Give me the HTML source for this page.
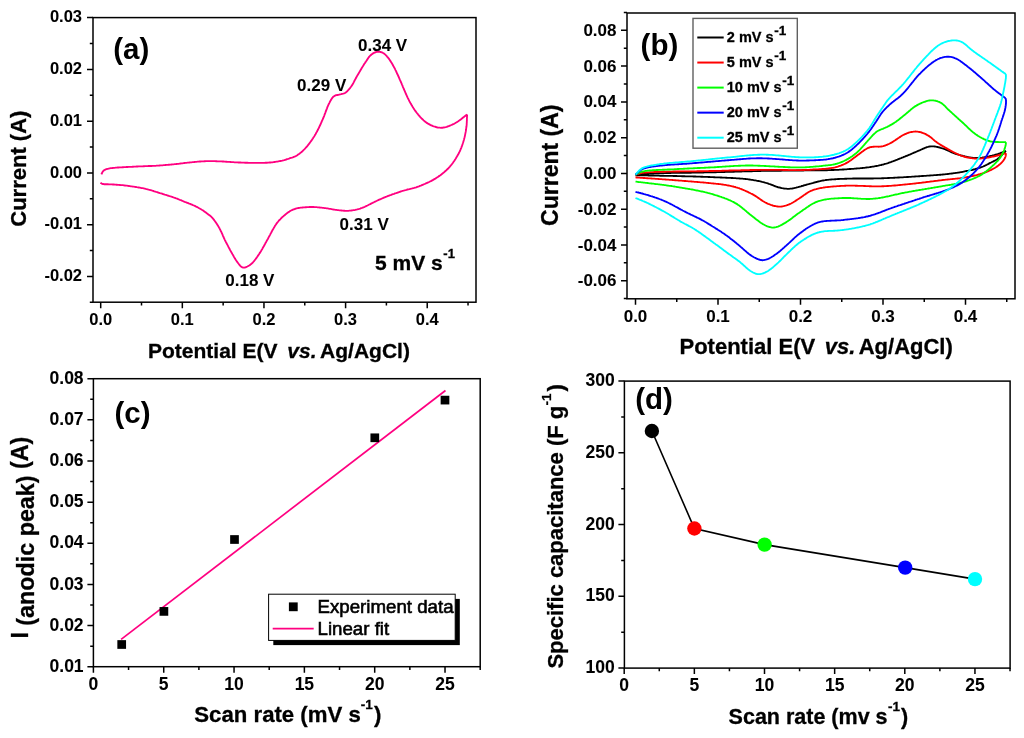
<!DOCTYPE html><html><head><meta charset="utf-8"><style>html,body{margin:0;padding:0;background:#fff;width:1024px;height:738px;overflow:hidden}svg{display:block;filter:blur(0.3px)} text{font-family:"Liberation Sans", sans-serif;font-weight:bold;fill:#000;stroke:#000;stroke-width:0.3px} .tk{font-size:16.5px;stroke-width:0.05px}</style></head><body>
<svg width="1024" height="738" viewBox="0 0 1024 738">
<rect width="1024" height="738" fill="#fff"/>
<rect x="93" y="17.6" width="383" height="284.6" fill="none" stroke="#000" stroke-width="1.5"/>
<path d="M100.7,302.2 v6 M182.33,302.2 v6 M263.96,302.2 v6 M345.59,302.2 v6 M427.22,302.2 v6 M141.51,302.2 v3.2 M223.15,302.2 v3.2 M304.77,302.2 v3.2 M386.4,302.2 v3.2 M468.03,302.2 v3.2 M93,276.42 h-6 M93,224.66 h-6 M93,172.9 h-6 M93,121.14 h-6 M93,69.38 h-6 M93,17.62 h-6 M93,302.3 h-3.2 M93,250.54 h-3.2 M93,198.78 h-3.2 M93,147.02 h-3.2 M93,95.26 h-3.2 M93,43.5 h-3.2" stroke="#000" stroke-width="1.5" fill="none"/>
<text x="100.7" y="324.7" text-anchor="middle" class="tk" style="font-size:16.5px">0.0</text>
<text x="182.33" y="324.7" text-anchor="middle" class="tk" style="font-size:16.5px">0.1</text>
<text x="263.96" y="324.7" text-anchor="middle" class="tk" style="font-size:16.5px">0.2</text>
<text x="345.59" y="324.7" text-anchor="middle" class="tk" style="font-size:16.5px">0.3</text>
<text x="427.22" y="324.7" text-anchor="middle" class="tk" style="font-size:16.5px">0.4</text>
<text x="82" y="281.02" text-anchor="end" class="tk" style="font-size:16.5px">-0.02</text>
<text x="82" y="229.26" text-anchor="end" class="tk" style="font-size:16.5px">-0.01</text>
<text x="82" y="177.5" text-anchor="end" class="tk" style="font-size:16.5px">0.00</text>
<text x="82" y="125.74" text-anchor="end" class="tk" style="font-size:16.5px">0.01</text>
<text x="82" y="73.98" text-anchor="end" class="tk" style="font-size:16.5px">0.02</text>
<text x="82" y="22.22" text-anchor="end" class="tk" style="font-size:16.5px">0.03</text>
<path d="M101.4,174.4L101.8,173.5L102.2,172.6L102.7,171.7L103.3,171.0L104.1,170.3L104.9,169.8L105.8,169.4L106.8,169.0L107.7,168.8L108.7,168.6L109.7,168.4L110.7,168.2L111.7,168.1L112.7,168.0L113.7,167.9L114.7,167.8L115.7,167.7L116.7,167.6L117.6,167.5L118.6,167.5L119.6,167.4L120.6,167.3L121.6,167.3L122.6,167.2L123.6,167.2L124.6,167.1L125.6,167.1L126.6,167.0L127.6,167.0L128.6,166.9L129.6,166.9L130.6,166.8L131.6,166.8L132.6,166.7L133.6,166.7L134.6,166.6L135.6,166.6L136.6,166.5L137.6,166.5L138.6,166.4L139.6,166.4L140.6,166.3L141.6,166.3L142.6,166.3L143.6,166.2L144.6,166.2L145.6,166.1L146.6,166.1L147.6,166.1L148.6,166.0L149.6,166.0L150.6,166.0L151.6,166.0L152.6,165.9L153.6,165.9L154.6,165.8L155.6,165.8L156.6,165.7L157.6,165.6L158.6,165.6L159.6,165.5L160.6,165.4L161.6,165.3L162.6,165.3L163.6,165.2L164.6,165.1L165.6,165.0L166.6,164.9L167.6,164.8L168.6,164.7L169.6,164.7L170.6,164.6L171.6,164.5L172.6,164.4L173.6,164.3L174.6,164.2L175.6,164.1L176.6,164.0L177.6,163.9L178.6,163.8L179.6,163.6L180.6,163.5L181.6,163.4L182.5,163.3L183.5,163.1L184.5,163.0L185.5,162.9L186.5,162.8L187.5,162.7L188.5,162.6L189.5,162.5L190.5,162.4L191.5,162.3L192.5,162.2L193.5,162.1L194.5,162.0L195.5,161.9L196.5,161.8L197.5,161.7L198.5,161.6L199.5,161.5L200.5,161.5L201.5,161.4L202.5,161.3L203.5,161.3L204.5,161.2L205.5,161.2L206.5,161.1L207.5,161.1L208.5,161.1L209.5,161.1L210.5,161.1L211.5,161.1L212.5,161.1L213.5,161.1L214.5,161.1L215.5,161.2L216.5,161.2L217.5,161.3L218.5,161.3L219.5,161.4L220.5,161.4L221.5,161.4L222.5,161.5L223.5,161.5L224.5,161.6L225.5,161.7L226.5,161.7L227.5,161.8L228.5,161.9L229.5,161.9L230.5,162.0L231.5,162.1L232.5,162.1L233.5,162.2L234.5,162.3L235.5,162.3L236.5,162.4L237.5,162.4L238.5,162.5L239.5,162.5L240.5,162.5L241.5,162.6L242.5,162.6L243.5,162.6L244.5,162.7L245.5,162.7L246.5,162.7L247.5,162.7L248.5,162.8L249.5,162.8L250.5,162.8L251.5,162.8L252.5,162.8L253.5,162.8L254.5,162.8L255.5,162.8L256.5,162.8L257.5,162.8L258.5,162.8L259.5,162.8L260.5,162.8L261.5,162.8L262.5,162.8L263.5,162.8L264.5,162.8L265.5,162.7L266.5,162.7L267.5,162.7L268.5,162.6L269.5,162.5L270.5,162.5L271.5,162.4L272.5,162.3L273.5,162.1L274.4,162.0L275.4,161.9L276.4,161.7L277.4,161.6L278.4,161.4L279.4,161.2L280.4,161.0L281.3,160.8L282.3,160.6L283.3,160.3L284.3,160.1L285.2,159.8L286.2,159.5L287.1,159.2L288.1,158.9L289.0,158.6L290.0,158.2L290.9,157.9L291.9,157.6L292.8,157.3L293.8,156.9L294.7,156.6L295.6,156.2L296.5,155.7L297.3,155.2L298.1,154.6L299.0,154.0L299.8,153.4L300.5,152.8L301.3,152.2L302.1,151.5L302.8,150.8L303.5,150.1L304.3,149.4L305.0,148.7L305.6,148.0L306.3,147.2L307.0,146.5L307.6,145.7L308.2,144.9L308.8,144.2L309.4,143.4L310.0,142.5L310.6,141.7L311.2,140.9L311.8,140.1L312.3,139.3L312.9,138.4L313.4,137.6L314.0,136.7L314.5,135.9L315.0,135.0L315.5,134.2L316.0,133.3L316.5,132.4L317.0,131.5L317.4,130.7L317.9,129.8L318.3,128.9L318.8,128.0L319.2,127.1L319.6,126.2L320.1,125.3L320.5,124.4L320.9,123.5L321.3,122.5L321.7,121.6L322.1,120.7L322.5,119.8L322.9,118.9L323.3,118.0L323.7,117.0L324.1,116.1L324.4,115.2L324.8,114.2L325.1,113.3L325.5,112.3L325.8,111.4L326.2,110.5L326.5,109.5L326.9,108.6L327.2,107.7L327.6,106.7L328.0,105.8L328.4,104.9L328.8,104.0L329.3,103.1L329.7,102.2L330.2,101.3L330.7,100.4L331.2,99.6L331.7,98.7L332.3,97.9L332.9,97.2L333.6,96.5L334.5,95.9L335.3,95.5L336.3,95.2L337.3,95.0L338.3,94.8L339.2,94.6L340.2,94.4L341.2,94.2L342.2,93.9L343.1,93.7L344.1,93.4L345.0,93.0L345.8,92.4L346.6,91.8L347.3,91.2L348.0,90.4L348.7,89.7L349.3,88.9L350.0,88.1L350.6,87.3L351.2,86.5L351.7,85.7L352.3,84.9L352.8,84.0L353.3,83.2L353.7,82.3L354.2,81.4L354.6,80.5L355.1,79.6L355.6,78.7L356.1,77.8L356.5,77.0L357.0,76.1L357.5,75.2L358.1,74.4L358.6,73.5L359.1,72.6L359.6,71.8L360.1,70.9L360.6,70.1L361.1,69.2L361.6,68.3L362.1,67.5L362.7,66.6L363.2,65.8L363.7,64.9L364.2,64.1L364.8,63.2L365.3,62.4L365.9,61.6L366.5,60.7L367.0,59.9L367.6,59.1L368.1,58.2L368.7,57.4L369.3,56.6L370.0,55.9L370.7,55.2L371.5,54.5L372.3,53.9L373.1,53.4L374.0,52.9L374.9,52.5L375.8,52.2L376.8,51.9L377.8,51.8L378.8,51.7L379.8,51.8L380.7,52.0L381.7,52.3L382.6,52.7L383.5,53.2L384.3,53.8L385.0,54.4L385.8,55.1L386.5,55.8L387.1,56.6L387.8,57.4L388.4,58.1L389.0,58.9L389.6,59.7L390.1,60.6L390.7,61.4L391.2,62.2L391.7,63.1L392.3,64.0L392.7,64.8L393.2,65.7L393.7,66.6L394.2,67.5L394.7,68.4L395.1,69.2L395.5,70.1L396.0,71.0L396.4,72.0L396.8,72.9L397.2,73.8L397.7,74.7L398.1,75.6L398.5,76.5L398.9,77.4L399.3,78.3L399.7,79.3L400.1,80.2L400.5,81.1L400.9,82.0L401.3,82.9L401.7,83.8L402.1,84.8L402.5,85.7L402.8,86.6L403.2,87.5L403.6,88.5L404.0,89.4L404.4,90.3L404.8,91.2L405.2,92.2L405.6,93.1L406.0,94.0L406.4,94.9L406.8,95.8L407.2,96.7L407.6,97.6L408.1,98.5L408.5,99.4L409.0,100.3L409.4,101.2L409.9,102.1L410.4,103.0L410.9,103.8L411.4,104.7L411.9,105.6L412.4,106.4L412.9,107.3L413.4,108.1L414.0,109.0L414.5,109.8L415.1,110.6L415.7,111.4L416.3,112.2L416.9,113.0L417.6,113.8L418.2,114.6L418.8,115.3L419.5,116.1L420.1,116.9L420.8,117.6L421.5,118.3L422.2,119.0L422.9,119.7L423.6,120.4L424.4,121.1L425.2,121.7L426.0,122.3L426.8,122.9L427.6,123.4L428.5,123.9L429.4,124.4L430.3,124.9L431.2,125.3L432.1,125.7L433.0,126.1L433.9,126.4L434.9,126.7L435.9,127.0L436.8,127.3L437.8,127.5L438.8,127.6L439.8,127.7L440.8,127.8L441.8,127.7L442.8,127.7L443.8,127.5L444.7,127.3L445.7,127.1L446.7,126.8L447.6,126.5L448.6,126.2L449.5,125.8L450.4,125.4L451.4,125.0L452.3,124.6L453.2,124.2L454.1,123.8L455.0,123.3L455.8,122.8L456.7,122.3L457.5,121.7L458.3,121.2L459.2,120.6L460.0,120.0L460.8,119.4L461.6,118.8L462.3,118.2L463.1,117.5L463.9,116.9L464.7,116.3L465.5,115.7L466.3,115.1L467.1,114.5 M467.1,114.5L467.1,115.5L467.0,116.5L467.0,117.5L466.9,118.5L466.9,119.5L466.9,120.5L466.8,121.5L466.8,122.5L466.7,123.5L466.7,124.5L466.6,125.5L466.5,126.5L466.3,127.5L466.2,128.5L466.1,129.5L465.9,130.5L465.8,131.4L465.6,132.4L465.4,133.4L465.2,134.4L465.0,135.4L464.8,136.4L464.6,137.3L464.3,138.3L464.1,139.3L463.8,140.2L463.5,141.2L463.2,142.2L462.9,143.1L462.6,144.1L462.3,145.0L462.0,145.9L461.6,146.9L461.3,147.8L460.9,148.7L460.5,149.7L460.1,150.6L459.7,151.5L459.2,152.4L458.8,153.3L458.3,154.2L457.8,155.1L457.3,155.9L456.8,156.8L456.3,157.6L455.8,158.5L455.3,159.3L454.7,160.2L454.2,161.0L453.6,161.8L453.0,162.7L452.4,163.5L451.8,164.3L451.2,165.0L450.5,165.8L449.9,166.6L449.2,167.3L448.5,168.1L447.9,168.8L447.1,169.5L446.4,170.2L445.7,170.8L444.9,171.5L444.2,172.2L443.4,172.8L442.6,173.4L441.9,174.1L441.1,174.7L440.3,175.3L439.4,175.9L438.6,176.4L437.8,177.0L437.0,177.5L436.1,178.1L435.3,178.6L434.4,179.1L433.5,179.6L432.7,180.1L431.8,180.6L430.9,181.1L430.0,181.5L429.1,182.0L428.2,182.4L427.3,182.8L426.4,183.2L425.5,183.6L424.6,184.0L423.6,184.4L422.7,184.8L421.8,185.2L420.9,185.6L419.9,185.9L419.0,186.3L418.1,186.6L417.1,187.0L416.2,187.3L415.2,187.6L414.2,187.9L413.3,188.1L412.3,188.4L411.3,188.6L410.4,188.8L409.4,189.1L408.4,189.3L407.4,189.5L406.5,189.8L405.5,190.1L404.5,190.3L403.6,190.6L402.6,190.9L401.7,191.2L400.7,191.5L399.8,191.8L398.8,192.2L397.9,192.5L396.9,192.8L396.0,193.1L395.0,193.4L394.1,193.8L393.1,194.1L392.2,194.4L391.3,194.8L390.3,195.1L389.4,195.5L388.4,195.8L387.5,196.2L386.6,196.6L385.7,196.9L384.7,197.3L383.8,197.7L382.9,198.1L382.0,198.5L381.1,198.9L380.1,199.3L379.2,199.7L378.3,200.1L377.4,200.5L376.5,201.0L375.6,201.4L374.7,201.8L373.8,202.3L372.9,202.7L372.0,203.2L371.1,203.6L370.2,204.1L369.3,204.5L368.4,205.0L367.5,205.5L366.6,205.9L365.7,206.3L364.8,206.8L363.9,207.2L363.0,207.5L362.1,207.9L361.1,208.2L360.2,208.6L359.2,208.9L358.3,209.1L357.3,209.4L356.3,209.6L355.3,209.9L354.4,210.1L353.4,210.2L352.4,210.4L351.4,210.5L350.4,210.6L349.4,210.7L348.4,210.8L347.4,210.8L346.4,210.8L345.4,210.8L344.4,210.7L343.4,210.7L342.4,210.6L341.4,210.5L340.4,210.4L339.4,210.3L338.4,210.2L337.4,210.1L336.4,209.9L335.4,209.8L334.5,209.6L333.5,209.5L332.5,209.3L331.5,209.1L330.5,208.9L329.5,208.8L328.5,208.6L327.6,208.4L326.6,208.3L325.6,208.2L324.6,208.1L323.6,207.9L322.6,207.8L321.6,207.7L320.6,207.6L319.6,207.5L318.6,207.4L317.6,207.3L316.6,207.2L315.6,207.1L314.6,207.1L313.6,207.0L312.6,207.0L311.6,207.0L310.6,207.0L309.6,207.0L308.6,207.1L307.6,207.1L306.6,207.2L305.6,207.2L304.6,207.3L303.6,207.4L302.6,207.5L301.6,207.6L300.6,207.7L299.6,207.9L298.7,208.0L297.7,208.2L296.7,208.4L295.7,208.7L294.8,209.0L293.8,209.3L292.9,209.7L292.0,210.1L291.1,210.5L290.2,211.0L289.4,211.6L288.5,212.1L287.7,212.7L286.9,213.3L286.1,213.9L285.4,214.5L284.6,215.2L283.8,215.8L283.1,216.5L282.3,217.1L281.6,217.8L280.9,218.5L280.2,219.3L279.5,220.0L278.8,220.7L278.2,221.5L277.5,222.3L276.9,223.1L276.3,223.9L275.8,224.7L275.2,225.5L274.7,226.4L274.2,227.2L273.7,228.1L273.2,229.0L272.7,229.8L272.2,230.7L271.7,231.6L271.3,232.5L270.8,233.4L270.3,234.3L269.9,235.1L269.4,236.0L268.9,236.9L268.4,237.8L268.0,238.7L267.5,239.5L267.0,240.4L266.5,241.3L266.0,242.2L265.5,243.0L265.1,243.9L264.6,244.8L264.1,245.7L263.6,246.6L263.1,247.4L262.6,248.3L262.2,249.2L261.6,250.0L261.1,250.9L260.6,251.7L260.1,252.6L259.5,253.4L259.0,254.3L258.4,255.1L257.8,255.9L257.3,256.7L256.7,257.6L256.1,258.4L255.5,259.2L254.9,260.0L254.3,260.8L253.6,261.5L253.0,262.3L252.3,263.0L251.5,263.7L250.8,264.3L250.0,264.9L249.2,265.5L248.3,266.0L247.4,266.5L246.5,266.9L245.6,267.3L244.7,267.5L243.7,267.6L242.7,267.5L241.8,267.1L241.0,266.5L240.3,265.8L239.7,265.1L239.0,264.3L238.4,263.5L237.8,262.7L237.2,261.9L236.6,261.1L236.1,260.3L235.5,259.4L235.0,258.6L234.5,257.7L234.0,256.9L233.5,256.0L233.0,255.1L232.5,254.3L232.0,253.4L231.5,252.5L231.0,251.6L230.5,250.8L230.0,249.9L229.6,249.0L229.1,248.1L228.6,247.2L228.2,246.3L227.7,245.4L227.3,244.6L226.8,243.7L226.3,242.8L225.8,241.9L225.4,241.0L224.9,240.1L224.5,239.2L224.1,238.3L223.7,237.4L223.3,236.5L222.9,235.6L222.5,234.6L222.1,233.7L221.7,232.8L221.3,231.9L220.8,231.0L220.4,230.1L219.9,229.2L219.5,228.3L219.0,227.5L218.5,226.6L218.0,225.7L217.4,224.9L216.9,224.0L216.4,223.2L215.8,222.4L215.2,221.5L214.6,220.7L214.0,219.9L213.4,219.1L212.8,218.4L212.1,217.6L211.4,216.9L210.7,216.2L209.9,215.6L209.1,215.0L208.3,214.4L207.5,213.8L206.7,213.2L205.9,212.6L205.1,212.0L204.3,211.4L203.5,210.8L202.7,210.2L201.8,209.7L201.0,209.2L200.1,208.7L199.2,208.2L198.4,207.7L197.5,207.2L196.6,206.8L195.7,206.4L194.8,205.9L193.9,205.5L192.9,205.1L192.0,204.7L191.1,204.3L190.2,203.9L189.2,203.6L188.3,203.2L187.4,202.8L186.4,202.5L185.5,202.1L184.6,201.8L183.6,201.4L182.7,201.0L181.8,200.6L180.9,200.2L179.9,199.9L179.0,199.5L178.1,199.1L177.2,198.7L176.2,198.4L175.3,198.0L174.3,197.7L173.4,197.4L172.5,197.0L171.5,196.7L170.6,196.4L169.6,196.1L168.7,195.8L167.7,195.5L166.7,195.2L165.8,194.9L164.8,194.6L163.9,194.3L162.9,194.0L162.0,193.7L161.0,193.4L160.0,193.1L159.1,192.8L158.1,192.5L157.2,192.2L156.2,191.9L155.3,191.6L154.3,191.3L153.4,191.0L152.4,190.7L151.5,190.4L150.5,190.1L149.5,189.8L148.6,189.6L147.6,189.3L146.6,189.1L145.7,188.9L144.7,188.6L143.7,188.4L142.7,188.2L141.7,188.1L140.7,187.9L139.8,187.7L138.8,187.5L137.8,187.3L136.8,187.2L135.8,187.0L134.8,186.9L133.8,186.7L132.8,186.6L131.9,186.4L130.9,186.3L129.9,186.1L128.9,186.0L127.9,185.9L126.9,185.7L125.9,185.6L124.9,185.5L123.9,185.4L122.9,185.2L121.9,185.1L120.9,185.1L119.9,185.0L118.9,184.9L117.9,184.8L116.9,184.7L115.9,184.7L114.9,184.6L113.9,184.5L112.9,184.5L111.9,184.4L110.9,184.4L109.9,184.3L108.9,184.3L107.9,184.2L106.9,184.2L105.9,184.2L104.9,184.2L103.9,184.2L103.0,184.0L102.0,183.8L101.2,183.3L100.5,182.6" fill="none" stroke="#ff0080" stroke-width="1.85" stroke-linejoin="round"/>
<text x="113.2" y="59.4" style="font-size:29.5px;stroke-width:0">(a)</text>
<text x="358" y="50.9" style="font-size:17px;stroke-width:0.05px">0.34 V</text>
<text x="297.1" y="90.9" style="font-size:17px;stroke-width:0.05px">0.29 V</text>
<text x="339.6" y="229.9" style="font-size:17px;stroke-width:0.05px">0.31 V</text>
<text x="225.3" y="285.7" style="font-size:17px;stroke-width:0.05px">0.18 V</text>
<text x="375" y="269.8" style="font-size:21px">5 mV s</text><text x="443.3" y="257.6" style="font-size:13px">-1</text>
<text transform="translate(25.6,168.7) rotate(-90)" text-anchor="middle" style="font-size:22px">Current (A)</text>
<text x="148" y="357.6" style="font-size:21px">Potential E(V <tspan dx="4" style="font-style:italic">vs.</tspan><tspan dx="-1.5"> Ag/AgCl)</tspan></text>
<rect x="627" y="13" width="388" height="285.8" fill="none" stroke="#000" stroke-width="1.5"/>
<path d="M635.5,298.8 v6 M718,298.8 v6 M800.5,298.8 v6 M883,298.8 v6 M965.5,298.8 v6 M676.75,298.8 v3.2 M759.25,298.8 v3.2 M841.75,298.8 v3.2 M924.25,298.8 v3.2 M1006.75,298.8 v3.2 M627,280.68 h-6 M627,244.92 h-6 M627,209.16 h-6 M627,173.4 h-6 M627,137.64 h-6 M627,101.88 h-6 M627,66.12 h-6 M627,30.36 h-6 M627,298.56 h-3.2 M627,262.8 h-3.2 M627,227.04 h-3.2 M627,191.28 h-3.2 M627,155.52 h-3.2 M627,119.76 h-3.2 M627,84 h-3.2 M627,48.24 h-3.2 M627,12.48 h-3.2" stroke="#000" stroke-width="1.5" fill="none"/>
<text x="635.5" y="322.1" text-anchor="middle" class="tk" style="font-size:17px">0.0</text>
<text x="718" y="322.1" text-anchor="middle" class="tk" style="font-size:17px">0.1</text>
<text x="800.5" y="322.1" text-anchor="middle" class="tk" style="font-size:17px">0.2</text>
<text x="883" y="322.1" text-anchor="middle" class="tk" style="font-size:17px">0.3</text>
<text x="965.5" y="322.1" text-anchor="middle" class="tk" style="font-size:17px">0.4</text>
<text x="616.5" y="286.28" text-anchor="end" class="tk" style="font-size:17px">-0.06</text>
<text x="616.5" y="250.52" text-anchor="end" class="tk" style="font-size:17px">-0.04</text>
<text x="616.5" y="214.76" text-anchor="end" class="tk" style="font-size:17px">-0.02</text>
<text x="616.5" y="179" text-anchor="end" class="tk" style="font-size:17px">0.00</text>
<text x="616.5" y="143.24" text-anchor="end" class="tk" style="font-size:17px">0.02</text>
<text x="616.5" y="107.48" text-anchor="end" class="tk" style="font-size:17px">0.04</text>
<text x="616.5" y="71.72" text-anchor="end" class="tk" style="font-size:17px">0.06</text>
<text x="616.5" y="35.96" text-anchor="end" class="tk" style="font-size:17px">0.08</text>
<path d="M635.5,174.7L636.5,174.5L637.5,174.4L638.5,174.2L639.5,174.1L640.4,174.0L641.4,173.9L642.4,173.8L643.4,173.7L644.4,173.7L645.4,173.6L646.4,173.6L647.4,173.5L648.4,173.5L649.4,173.4L650.4,173.4L651.4,173.4L652.4,173.3L653.4,173.3L654.4,173.3L655.4,173.3L656.4,173.2L657.4,173.2L658.4,173.2L659.4,173.2L660.4,173.1L661.4,173.1L662.4,173.1L663.4,173.1L664.4,173.1L665.4,173.0L666.4,173.0L667.4,173.0L668.4,173.0L669.4,173.0L670.5,173.0L671.5,172.9L672.5,172.9L673.5,172.9L674.5,172.9L675.5,172.9L676.5,172.9L677.5,172.9L678.5,172.8L679.5,172.8L680.5,172.8L681.5,172.8L682.5,172.8L683.5,172.8L684.5,172.8L685.5,172.7L686.5,172.7L687.5,172.7L688.5,172.7L689.5,172.7L690.5,172.7L691.5,172.7L692.5,172.6L693.5,172.6L694.5,172.6L695.5,172.6L696.5,172.6L697.5,172.6L698.5,172.5L699.5,172.5L700.5,172.5L701.5,172.5L702.5,172.5L703.5,172.5L704.5,172.4L705.5,172.4L706.5,172.4L707.5,172.4L708.5,172.4L709.5,172.3L710.5,172.3L711.5,172.3L712.5,172.3L713.5,172.3L714.5,172.2L715.5,172.2L716.5,172.2L717.5,172.1L718.5,172.1L719.5,172.1L720.5,172.1L721.5,172.0L722.5,172.0L723.5,172.0L724.5,172.0L725.5,171.9L726.5,171.9L727.5,171.9L728.5,171.8L729.5,171.8L730.5,171.8L731.5,171.8L732.5,171.7L733.5,171.7L734.5,171.7L735.5,171.6L736.5,171.6L737.5,171.6L738.5,171.6L739.5,171.5L740.5,171.5L741.5,171.5L742.5,171.4L743.5,171.4L744.5,171.4L745.5,171.4L746.5,171.3L747.5,171.3L748.5,171.3L749.5,171.2L750.5,171.2L751.5,171.2L752.5,171.2L753.5,171.1L754.5,171.1L755.5,171.1L756.5,171.1L757.5,171.0L758.5,171.0L759.5,171.0L760.5,171.0L761.5,170.9L762.5,170.9L763.5,170.9L764.5,170.9L765.5,170.8L766.5,170.8L767.5,170.8L768.5,170.8L769.5,170.8L770.5,170.8L771.5,170.7L772.5,170.7L773.5,170.7L774.5,170.7L775.5,170.7L776.5,170.7L777.5,170.7L778.5,170.7L779.5,170.7L780.5,170.7L781.5,170.7L782.5,170.6L783.5,170.6L784.5,170.6L785.5,170.6L786.5,170.6L787.5,170.6L788.5,170.6L789.5,170.6L790.5,170.6L791.5,170.6L792.5,170.6L793.5,170.6L794.5,170.6L795.5,170.6L796.5,170.5L797.5,170.5L798.5,170.5L799.5,170.5L800.5,170.5L801.5,170.5L802.5,170.5L803.5,170.5L804.5,170.4L805.5,170.4L806.5,170.4L807.5,170.4L808.5,170.4L809.5,170.4L810.5,170.4L811.5,170.4L812.5,170.4L813.5,170.4L814.5,170.3L815.5,170.3L816.5,170.3L817.5,170.3L818.5,170.3L819.6,170.3L820.6,170.3L821.6,170.3L822.6,170.3L823.6,170.2L824.6,170.2L825.6,170.2L826.6,170.2L827.6,170.2L828.6,170.1L829.6,170.1L830.6,170.1L831.6,170.0L832.6,170.0L833.6,170.0L834.6,169.9L835.6,169.9L836.6,169.9L837.6,169.8L838.6,169.8L839.6,169.7L840.6,169.6L841.6,169.6L842.6,169.5L843.6,169.5L844.6,169.4L845.6,169.3L846.5,169.3L847.5,169.2L848.5,169.1L849.5,169.0L850.5,169.0L851.5,168.9L852.5,168.8L853.5,168.8L854.5,168.7L855.5,168.6L856.5,168.5L857.5,168.4L858.5,168.3L859.5,168.3L860.5,168.2L861.5,168.1L862.5,168.0L863.5,167.9L864.5,167.8L865.5,167.6L866.5,167.5L867.5,167.4L868.5,167.3L869.5,167.2L870.5,167.0L871.4,166.9L872.4,166.7L873.4,166.6L874.4,166.4L875.4,166.2L876.4,166.0L877.4,165.9L878.3,165.7L879.3,165.4L880.3,165.2L881.3,165.0L882.2,164.7L883.2,164.5L884.2,164.2L885.1,163.9L886.1,163.7L887.1,163.4L888.0,163.1L889.0,162.7L889.9,162.4L890.8,162.1L891.8,161.7L892.7,161.4L893.7,161.0L894.6,160.7L895.5,160.3L896.5,159.9L897.4,159.6L898.3,159.2L899.2,158.8L900.2,158.4L901.1,158.1L902.0,157.7L903.0,157.3L903.9,156.9L904.8,156.6L905.7,156.2L906.7,155.8L907.6,155.5L908.5,155.1L909.4,154.7L910.4,154.3L911.3,153.9L912.2,153.5L913.1,153.1L914.0,152.7L914.9,152.3L915.9,151.9L916.8,151.5L917.7,151.1L918.6,150.7L919.6,150.3L920.5,149.9L921.4,149.5L922.3,149.1L923.2,148.7L924.1,148.3L925.0,147.9L926.0,147.5L926.9,147.2L927.9,146.9L928.8,146.6L929.8,146.5L930.8,146.4L931.8,146.3L932.8,146.3L933.8,146.4L934.8,146.5L935.8,146.6L936.7,146.8L937.7,147.0L938.7,147.3L939.7,147.5L940.6,147.8L941.6,148.1L942.5,148.4L943.5,148.7L944.4,149.0L945.4,149.4L946.3,149.8L947.2,150.2L948.1,150.6L949.0,151.0L949.9,151.5L950.8,151.9L951.7,152.3L952.7,152.7L953.6,153.1L954.5,153.4L955.5,153.8L956.4,154.1L957.4,154.4L958.3,154.7L959.3,154.9L960.2,155.2L961.2,155.5L962.2,155.7L963.1,156.0L964.1,156.2L965.1,156.5L966.1,156.7L967.0,156.9L968.0,157.1L969.0,157.3L970.0,157.4L971.0,157.6L972.0,157.7L973.0,157.8L974.0,157.9L975.0,157.9L976.0,158.0L977.0,158.0L978.0,158.0L979.0,157.9L980.0,157.8L981.0,157.8L982.0,157.7L983.0,157.5L983.9,157.4L984.9,157.2L985.9,157.0L986.9,156.9L987.9,156.7L988.9,156.5L989.8,156.2L990.8,156.0L991.8,155.8L992.8,155.5L993.7,155.3L994.7,155.0L995.6,154.7L996.6,154.4L997.6,154.1L998.5,153.8L999.4,153.5L1000.4,153.1L1001.3,152.7L1002.2,152.4L1003.2,152.0L1004.1,151.7L1005.1,151.3L1006.0,151.0 M1006.0,151.0L1005.3,151.7L1004.5,152.4L1003.8,153.1L1003.1,153.7L1002.4,154.5L1001.7,155.2L1001.0,155.9L1000.3,156.6L999.6,157.3L998.9,158.0L998.1,158.6L997.3,159.2L996.4,159.7L995.6,160.2L994.7,160.7L993.8,161.1L992.9,161.6L992.0,162.0L991.1,162.5L990.2,162.9L989.3,163.4L988.5,163.9L987.6,164.3L986.7,164.8L985.8,165.2L984.9,165.7L984.0,166.1L983.1,166.5L982.1,166.9L981.2,167.2L980.3,167.6L979.3,167.9L978.3,168.2L977.4,168.5L976.4,168.7L975.5,169.0L974.5,169.3L973.5,169.5L972.6,169.8L971.6,170.0L970.6,170.2L969.6,170.4L968.7,170.6L967.7,170.8L966.7,171.0L965.7,171.2L964.7,171.4L963.7,171.6L962.8,171.8L961.8,172.0L960.8,172.1L959.8,172.3L958.8,172.5L957.8,172.6L956.8,172.8L955.9,172.9L954.9,173.1L953.9,173.2L952.9,173.4L951.9,173.5L950.9,173.6L949.9,173.7L948.9,173.9L947.9,174.0L946.9,174.1L945.9,174.2L944.9,174.3L943.9,174.4L942.9,174.5L941.9,174.6L941.0,174.7L940.0,174.7L939.0,174.8L938.0,174.9L937.0,175.0L936.0,175.1L935.0,175.1L934.0,175.2L933.0,175.3L932.0,175.3L931.0,175.4L930.0,175.5L929.0,175.6L928.0,175.6L927.0,175.7L926.0,175.8L925.0,175.8L924.0,175.9L923.0,176.0L922.0,176.0L921.0,176.1L920.0,176.2L919.0,176.2L918.0,176.3L917.0,176.4L916.0,176.4L915.0,176.5L914.0,176.6L913.0,176.6L912.0,176.7L911.0,176.8L910.0,176.8L909.0,176.9L908.0,177.0L907.0,177.0L906.0,177.1L905.0,177.1L904.0,177.2L903.0,177.3L902.0,177.3L901.0,177.4L900.0,177.4L899.0,177.5L898.0,177.5L897.0,177.6L896.0,177.6L895.0,177.7L894.0,177.7L893.0,177.8L892.0,177.8L891.0,177.9L890.0,177.9L889.0,178.0L888.0,178.0L887.0,178.1L886.0,178.1L885.0,178.1L884.0,178.2L883.0,178.2L882.0,178.2L881.0,178.3L880.0,178.3L879.0,178.3L878.0,178.4L877.0,178.4L876.0,178.4L875.0,178.4L874.0,178.4L873.0,178.5L872.0,178.5L871.0,178.5L870.0,178.5L869.0,178.5L868.0,178.5L867.0,178.5L866.0,178.5L865.0,178.5L864.0,178.5L863.0,178.5L862.0,178.5L861.0,178.5L860.0,178.5L859.0,178.5L858.0,178.5L857.0,178.5L856.0,178.5L855.0,178.5L854.0,178.5L853.0,178.5L852.0,178.6L851.0,178.6L850.0,178.6L849.0,178.6L848.0,178.6L847.0,178.7L846.0,178.7L845.0,178.7L844.0,178.8L843.0,178.8L842.0,178.8L841.0,178.9L840.0,178.9L839.0,179.0L838.0,179.0L837.0,179.1L836.0,179.2L835.0,179.2L834.0,179.3L833.0,179.4L832.0,179.4L831.1,179.5L830.1,179.6L829.1,179.7L828.1,179.8L827.1,179.9L826.1,180.0L825.1,180.2L824.1,180.3L823.1,180.5L822.1,180.7L821.1,180.9L820.2,181.1L819.2,181.3L818.2,181.5L817.2,181.8L816.3,182.0L815.3,182.3L814.3,182.5L813.4,182.8L812.4,183.1L811.5,183.4L810.5,183.6L809.5,183.9L808.6,184.2L807.6,184.4L806.6,184.7L805.7,185.0L804.7,185.2L803.7,185.5L802.8,185.8L801.8,186.0L800.9,186.3L799.9,186.6L798.9,186.9L798.0,187.2L797.0,187.4L796.1,187.7L795.1,187.9L794.1,188.1L793.1,188.3L792.1,188.5L791.2,188.6L790.2,188.7L789.2,188.8L788.2,188.8L787.2,188.8L786.2,188.7L785.2,188.6L784.2,188.5L783.2,188.3L782.2,188.2L781.2,188.0L780.3,187.7L779.3,187.5L778.3,187.3L777.4,187.0L776.4,186.7L775.5,186.3L774.5,186.0L773.6,185.6L772.7,185.2L771.7,184.8L770.8,184.5L769.9,184.1L768.9,183.8L768.0,183.5L767.0,183.1L766.1,182.9L765.1,182.6L764.2,182.3L763.2,182.1L762.2,181.9L761.2,181.6L760.3,181.4L759.3,181.2L758.3,181.0L757.3,180.8L756.3,180.6L755.4,180.4L754.4,180.3L753.4,180.1L752.4,179.9L751.4,179.8L750.4,179.6L749.4,179.5L748.4,179.4L747.4,179.2L746.5,179.1L745.5,179.0L744.5,178.9L743.5,178.8L742.5,178.7L741.5,178.6L740.5,178.6L739.5,178.5L738.5,178.4L737.5,178.3L736.5,178.3L735.5,178.2L734.5,178.1L733.5,178.1L732.5,178.0L731.5,178.0L730.5,177.9L729.5,177.9L728.5,177.8L727.5,177.8L726.5,177.7L725.5,177.7L724.5,177.6L723.5,177.6L722.5,177.6L721.5,177.5L720.5,177.5L719.5,177.4L718.5,177.4L717.5,177.4L716.5,177.3L715.5,177.3L714.5,177.2L713.5,177.2L712.5,177.1L711.5,177.1L710.5,177.1L709.5,177.0L708.5,177.0L707.5,176.9L706.5,176.9L705.5,176.9L704.5,176.8L703.5,176.8L702.5,176.7L701.5,176.7L700.5,176.7L699.5,176.6L698.5,176.6L697.5,176.6L696.5,176.6L695.5,176.5L694.5,176.5L693.5,176.5L692.5,176.4L691.5,176.4L690.5,176.4L689.5,176.4L688.5,176.3L687.5,176.3L686.5,176.3L685.5,176.3L684.5,176.2L683.5,176.2L682.5,176.2L681.5,176.2L680.5,176.1L679.5,176.1L678.5,176.1L677.5,176.1L676.5,176.0L675.5,176.0L674.5,176.0L673.5,176.0L672.5,175.9L671.5,175.9L670.5,175.9L669.5,175.9L668.5,175.8L667.5,175.8L666.5,175.8L665.5,175.8L664.5,175.8L663.5,175.7L662.5,175.7L661.5,175.7L660.5,175.7L659.5,175.7L658.5,175.6L657.5,175.6L656.5,175.6L655.5,175.6L654.5,175.6L653.5,175.5L652.5,175.5L651.5,175.5L650.5,175.5L649.5,175.5L648.5,175.5L647.5,175.4L646.5,175.4L645.5,175.4L644.5,175.4L643.5,175.4L642.5,175.3L641.5,175.3L640.5,175.3L639.5,175.3L638.5,175.3L637.5,175.2L636.5,175.2L635.5,175.2" fill="none" stroke="#000000" stroke-width="1.85" stroke-linejoin="round"/>
<path d="M635.5,174.7L636.5,174.4L637.4,174.1L638.4,173.8L639.3,173.5L640.3,173.3L641.3,173.1L642.2,172.9L643.2,172.8L644.2,172.7L645.2,172.6L646.2,172.5L647.2,172.4L648.2,172.3L649.2,172.3L650.2,172.2L651.2,172.1L652.2,172.1L653.2,172.1L654.2,172.0L655.2,172.0L656.2,171.9L657.2,171.9L658.2,171.9L659.2,171.8L660.2,171.8L661.2,171.8L662.2,171.8L663.2,171.7L664.2,171.7L665.2,171.7L666.2,171.7L667.2,171.6L668.2,171.6L669.2,171.6L670.2,171.6L671.2,171.6L672.2,171.6L673.2,171.5L674.2,171.5L675.2,171.5L676.2,171.5L677.2,171.5L678.2,171.5L679.2,171.5L680.2,171.4L681.2,171.4L682.2,171.4L683.2,171.4L684.2,171.4L685.2,171.4L686.2,171.4L687.2,171.4L688.2,171.3L689.2,171.3L690.2,171.3L691.2,171.3L692.2,171.3L693.2,171.3L694.2,171.3L695.2,171.3L696.2,171.3L697.2,171.2L698.2,171.2L699.2,171.2L700.2,171.2L701.2,171.2L702.2,171.2L703.2,171.2L704.2,171.1L705.2,171.1L706.2,171.1L707.2,171.1L708.2,171.1L709.2,171.0L710.2,171.0L711.2,171.0L712.2,171.0L713.2,171.0L714.2,170.9L715.2,170.9L716.2,170.9L717.2,170.9L718.2,170.8L719.2,170.8L720.2,170.8L721.2,170.8L722.2,170.7L723.2,170.7L724.2,170.7L725.2,170.6L726.2,170.6L727.2,170.6L728.2,170.6L729.2,170.5L730.2,170.5L731.2,170.5L732.2,170.5L733.2,170.4L734.2,170.4L735.2,170.4L736.2,170.4L737.2,170.3L738.2,170.3L739.2,170.3L740.2,170.3L741.2,170.2L742.2,170.2L743.2,170.2L744.2,170.2L745.2,170.1L746.2,170.1L747.2,170.1L748.2,170.1L749.2,170.1L750.2,170.0L751.2,170.0L752.2,170.0L753.2,170.0L754.2,170.0L755.2,169.9L756.2,169.9L757.2,169.9L758.2,169.9L759.2,169.9L760.2,169.9L761.2,169.9L762.2,169.8L763.2,169.8L764.2,169.8L765.2,169.8L766.2,169.8L767.2,169.8L768.2,169.8L769.2,169.8L770.2,169.8L771.2,169.8L772.2,169.8L773.2,169.8L774.2,169.8L775.2,169.8L776.2,169.8L777.2,169.9L778.2,169.9L779.2,169.9L780.2,169.9L781.2,169.9L782.2,169.9L783.2,170.0L784.2,170.0L785.2,170.0L786.2,170.0L787.2,170.0L788.2,170.1L789.2,170.1L790.2,170.1L791.2,170.1L792.2,170.1L793.2,170.1L794.2,170.1L795.2,170.1L796.2,170.1L797.2,170.1L798.2,170.1L799.2,170.1L800.2,170.1L801.2,170.1L802.2,170.0L803.2,170.0L804.2,170.0L805.2,169.9L806.2,169.9L807.2,169.9L808.2,169.8L809.2,169.8L810.2,169.7L811.2,169.7L812.2,169.6L813.2,169.5L814.2,169.5L815.2,169.4L816.2,169.4L817.2,169.3L818.2,169.3L819.2,169.2L820.2,169.2L821.2,169.1L822.2,169.0L823.2,169.0L824.2,168.9L825.2,168.8L826.2,168.7L827.2,168.6L828.2,168.5L829.1,168.4L830.1,168.2L831.1,168.1L832.1,167.9L833.1,167.8L834.1,167.6L835.1,167.4L836.0,167.1L837.0,166.8L837.9,166.6L838.9,166.2L839.8,165.9L840.8,165.6L841.7,165.2L842.6,164.8L843.6,164.4L844.5,164.0L845.4,163.6L846.2,163.1L847.1,162.6L848.0,162.1L848.8,161.6L849.7,161.0L850.5,160.5L851.3,159.9L852.1,159.3L852.9,158.7L853.7,158.1L854.5,157.5L855.3,156.9L856.1,156.3L856.9,155.7L857.7,155.1L858.5,154.5L859.3,153.9L860.1,153.3L860.9,152.7L861.7,152.1L862.5,151.5L863.3,150.9L864.1,150.3L864.9,149.7L865.8,149.2L866.6,148.7L867.5,148.2L868.4,147.8L869.3,147.5L870.3,147.2L871.3,147.0L872.3,146.8L873.3,146.7L874.3,146.7L875.2,146.6L876.2,146.6L877.2,146.6L878.2,146.7L879.2,146.7L880.2,146.6L881.2,146.5L882.2,146.4L883.2,146.1L884.1,145.8L885.1,145.5L886.0,145.2L886.9,144.8L887.8,144.4L888.8,144.0L889.7,143.5L890.5,143.1L891.4,142.6L892.3,142.1L893.1,141.6L894.0,141.0L894.8,140.5L895.6,139.9L896.5,139.4L897.3,138.8L898.1,138.2L898.9,137.7L899.8,137.1L900.6,136.6L901.5,136.0L902.3,135.5L903.2,135.0L904.1,134.6L905.0,134.2L905.9,133.8L906.8,133.4L907.8,133.0L908.7,132.7L909.7,132.4L910.6,132.2L911.6,132.0L912.6,131.8L913.6,131.7L914.6,131.6L915.6,131.5L916.6,131.6L917.6,131.6L918.5,131.8L919.5,132.0L920.5,132.2L921.5,132.5L922.4,132.8L923.3,133.2L924.3,133.5L925.2,133.9L926.1,134.4L926.9,134.9L927.8,135.3L928.7,135.9L929.5,136.4L930.3,137.0L931.1,137.6L931.9,138.3L932.6,138.9L933.4,139.6L934.1,140.2L934.9,140.9L935.7,141.5L936.5,142.1L937.3,142.7L938.1,143.2L938.9,143.8L939.8,144.3L940.6,144.9L941.5,145.4L942.3,145.9L943.2,146.4L944.1,146.9L944.9,147.4L945.8,147.9L946.7,148.4L947.5,148.9L948.4,149.4L949.3,149.9L950.2,150.4L951.0,150.8L951.9,151.3L952.8,151.8L953.7,152.2L954.6,152.7L955.5,153.2L956.4,153.6L957.3,154.0L958.2,154.4L959.1,154.8L960.0,155.2L961.0,155.6L961.9,155.9L962.9,156.2L963.8,156.5L964.8,156.8L965.7,157.0L966.7,157.3L967.7,157.5L968.7,157.7L969.6,157.9L970.6,158.0L971.6,158.2L972.6,158.3L973.6,158.4L974.6,158.5L975.6,158.6L976.6,158.6L977.6,158.6L978.6,158.6L979.6,158.6L980.6,158.5L981.6,158.4L982.6,158.3L983.6,158.2L984.6,158.1L985.6,158.0L986.6,157.8L987.5,157.7L988.5,157.5L989.5,157.3L990.5,157.1L991.5,156.9L992.5,156.7L993.4,156.5L994.4,156.3L995.4,156.0L996.3,155.8L997.3,155.5L998.3,155.3L999.2,155.0L1000.2,154.7L1001.2,154.5L1002.1,154.2L1003.1,154.0L1004.1,153.7L1005.0,153.5L1006.0,153.2 M1006.0,153.2L1005.9,154.2L1005.8,155.2L1005.6,156.2L1005.3,157.1L1004.9,158.0L1004.5,158.9L1003.9,159.7L1003.4,160.6L1002.7,161.3L1002.1,162.1L1001.4,162.8L1000.7,163.5L1000.0,164.2L999.2,164.8L998.4,165.5L997.6,166.1L996.8,166.6L995.9,167.2L995.1,167.7L994.2,168.2L993.3,168.7L992.4,169.2L991.6,169.6L990.7,170.1L989.8,170.5L988.8,170.9L987.9,171.3L987.0,171.7L986.1,172.1L985.1,172.4L984.2,172.8L983.2,173.1L982.3,173.4L981.3,173.7L980.4,174.0L979.4,174.3L978.5,174.5L977.5,174.8L976.5,175.1L975.5,175.3L974.6,175.5L973.6,175.8L972.6,176.0L971.6,176.2L970.7,176.4L969.7,176.6L968.7,176.8L967.7,177.0L966.7,177.2L965.7,177.4L964.8,177.6L963.8,177.7L962.8,177.9L961.8,178.0L960.8,178.1L959.8,178.3L958.8,178.4L957.8,178.5L956.8,178.6L955.8,178.7L954.8,178.8L953.8,178.9L952.8,179.0L951.8,179.1L950.8,179.2L949.8,179.3L948.8,179.4L947.8,179.5L946.8,179.6L945.8,179.7L944.8,179.8L943.8,179.9L942.9,180.0L941.9,180.1L940.9,180.3L939.9,180.4L938.9,180.5L937.9,180.6L936.9,180.8L935.9,180.9L934.9,181.0L933.9,181.1L932.9,181.3L931.9,181.4L930.9,181.5L929.9,181.6L928.9,181.8L927.9,181.9L926.9,182.0L925.9,182.1L925.0,182.3L924.0,182.4L923.0,182.5L922.0,182.6L921.0,182.8L920.0,182.9L919.0,183.0L918.0,183.1L917.0,183.2L916.0,183.4L915.0,183.5L914.0,183.6L913.0,183.7L912.0,183.8L911.0,183.9L910.0,184.0L909.0,184.1L908.0,184.2L907.0,184.3L906.0,184.4L905.0,184.5L904.0,184.6L903.0,184.7L902.0,184.8L901.0,184.9L900.0,185.0L899.0,185.1L898.1,185.2L897.1,185.3L896.1,185.4L895.1,185.5L894.1,185.5L893.1,185.6L892.1,185.7L891.1,185.8L890.1,185.8L889.1,185.9L888.1,186.0L887.1,186.0L886.1,186.1L885.1,186.1L884.1,186.2L883.1,186.2L882.1,186.2L881.1,186.3L880.0,186.3L879.0,186.3L878.0,186.3L877.0,186.3L876.0,186.3L875.0,186.3L874.0,186.3L873.0,186.3L872.0,186.3L871.0,186.2L870.0,186.2L869.0,186.2L868.0,186.1L867.0,186.1L866.0,186.1L865.0,186.0L864.0,186.0L863.0,185.9L862.0,185.9L861.0,185.9L860.0,185.8L859.0,185.8L858.0,185.8L857.0,185.7L856.0,185.7L855.0,185.7L854.0,185.6L853.0,185.6L852.0,185.6L851.0,185.6L850.0,185.6L849.0,185.6L848.0,185.6L847.0,185.6L846.0,185.7L845.0,185.7L844.0,185.8L843.0,185.8L842.0,185.9L841.0,185.9L840.0,186.0L839.0,186.1L838.0,186.1L837.0,186.2L836.0,186.3L835.0,186.4L834.0,186.4L833.0,186.5L832.0,186.6L831.0,186.7L830.0,186.8L829.0,186.9L828.0,187.0L827.0,187.1L826.0,187.2L825.0,187.4L824.0,187.5L823.0,187.7L822.0,187.8L821.1,188.0L820.1,188.2L819.1,188.4L818.1,188.6L817.1,188.8L816.2,189.1L815.2,189.3L814.2,189.6L813.3,189.9L812.4,190.3L811.4,190.7L810.5,191.1L809.6,191.5L808.7,192.0L807.9,192.5L807.0,193.1L806.2,193.6L805.4,194.2L804.6,194.8L803.7,195.3L802.9,195.9L802.1,196.5L801.3,197.1L800.4,197.6L799.6,198.2L798.8,198.7L797.9,199.3L797.1,199.8L796.3,200.4L795.4,200.9L794.6,201.5L793.7,202.0L792.9,202.5L792.0,203.0L791.1,203.5L790.2,203.9L789.3,204.3L788.4,204.7L787.4,205.0L786.5,205.4L785.5,205.7L784.6,205.9L783.6,206.2L782.6,206.3L781.6,206.5L780.6,206.6L779.6,206.6L778.6,206.6L777.6,206.5L776.6,206.4L775.7,206.2L774.7,206.0L773.7,205.8L772.7,205.5L771.8,205.2L770.8,204.9L769.9,204.5L769.0,204.1L768.1,203.8L767.1,203.4L766.2,202.9L765.3,202.5L764.5,202.0L763.6,201.5L762.7,201.0L761.9,200.4L761.1,199.9L760.3,199.3L759.4,198.7L758.6,198.1L757.8,197.6L757.0,197.0L756.1,196.4L755.3,195.9L754.4,195.4L753.6,194.9L752.7,194.4L751.8,193.9L750.9,193.5L750.0,193.0L749.1,192.6L748.2,192.1L747.3,191.7L746.4,191.3L745.5,190.9L744.6,190.5L743.7,190.1L742.7,189.7L741.8,189.3L740.9,188.9L739.9,188.6L739.0,188.2L738.0,187.9L737.1,187.6L736.1,187.3L735.2,187.0L734.2,186.8L733.2,186.5L732.3,186.3L731.3,186.1L730.3,185.9L729.3,185.7L728.3,185.5L727.3,185.3L726.4,185.1L725.4,184.9L724.4,184.8L723.4,184.6L722.4,184.5L721.4,184.4L720.4,184.2L719.4,184.1L718.4,184.0L717.4,183.9L716.4,183.8L715.4,183.7L714.4,183.6L713.4,183.5L712.4,183.4L711.4,183.3L710.4,183.2L709.4,183.1L708.4,183.0L707.4,182.9L706.5,182.8L705.5,182.7L704.5,182.6L703.5,182.5L702.5,182.4L701.5,182.4L700.5,182.3L699.5,182.2L698.5,182.1L697.5,182.0L696.5,181.9L695.5,181.8L694.5,181.8L693.5,181.7L692.5,181.6L691.5,181.5L690.5,181.4L689.5,181.3L688.5,181.3L687.5,181.2L686.5,181.1L685.5,181.0L684.5,181.0L683.5,180.9L682.5,180.8L681.5,180.7L680.5,180.6L679.5,180.6L678.5,180.5L677.5,180.4L676.5,180.3L675.5,180.2L674.5,180.2L673.5,180.1L672.5,180.0L671.5,179.9L670.5,179.9L669.5,179.8L668.5,179.7L667.5,179.6L666.5,179.6L665.5,179.5L664.5,179.4L663.5,179.4L662.5,179.3L661.5,179.2L660.5,179.1L659.5,179.1L658.5,179.0L657.5,178.9L656.5,178.9L655.5,178.8L654.5,178.7L653.5,178.6L652.5,178.6L651.5,178.5L650.5,178.4L649.5,178.4L648.5,178.3L647.5,178.2L646.5,178.2L645.5,178.1L644.5,178.0L643.5,178.0L642.5,177.9L641.5,177.8L640.5,177.8L639.5,177.7L638.5,177.6L637.5,177.5L636.5,177.5L635.5,177.4" fill="none" stroke="#ff0000" stroke-width="1.85" stroke-linejoin="round"/>
<path d="M635.5,174.7L636.4,174.2L637.3,173.7L638.1,173.3L639.0,172.8L639.9,172.4L640.9,172.0L641.8,171.7L642.8,171.5L643.7,171.3L644.7,171.1L645.7,170.9L646.7,170.8L647.7,170.7L648.7,170.6L649.7,170.5L650.7,170.4L651.7,170.3L652.7,170.2L653.7,170.2L654.7,170.1L655.7,170.1L656.7,170.0L657.7,170.0L658.7,169.9L659.7,169.9L660.7,169.8L661.7,169.8L662.7,169.7L663.7,169.7L664.7,169.7L665.7,169.6L666.7,169.6L667.7,169.5L668.7,169.5L669.7,169.5L670.7,169.4L671.7,169.4L672.7,169.3L673.7,169.3L674.7,169.2L675.7,169.2L676.7,169.1L677.7,169.0L678.7,169.0L679.7,168.9L680.7,168.9L681.7,168.8L682.7,168.8L683.7,168.7L684.7,168.7L685.7,168.6L686.7,168.6L687.7,168.5L688.7,168.5L689.7,168.4L690.7,168.4L691.7,168.3L692.7,168.3L693.7,168.2L694.7,168.2L695.7,168.1L696.7,168.1L697.7,168.0L698.7,168.0L699.7,168.0L700.7,167.9L701.7,167.9L702.7,167.8L703.7,167.8L704.7,167.7L705.7,167.7L706.7,167.6L707.7,167.6L708.7,167.5L709.7,167.5L710.7,167.4L711.7,167.4L712.7,167.3L713.7,167.3L714.7,167.2L715.7,167.2L716.7,167.1L717.7,167.0L718.7,167.0L719.7,166.9L720.7,166.8L721.7,166.8L722.7,166.7L723.7,166.6L724.7,166.6L725.7,166.5L726.7,166.4L727.7,166.4L728.7,166.3L729.7,166.2L730.7,166.2L731.7,166.1L732.7,166.1L733.7,166.0L734.7,165.9L735.7,165.9L736.7,165.8L737.7,165.8L738.7,165.7L739.7,165.7L740.7,165.7L741.7,165.6L742.7,165.6L743.7,165.6L744.7,165.6L745.7,165.5L746.7,165.5L747.7,165.5L748.7,165.5L749.7,165.5L750.7,165.5L751.7,165.5L752.7,165.5L753.7,165.6L754.7,165.6L755.7,165.6L756.7,165.6L757.7,165.7L758.7,165.7L759.7,165.7L760.7,165.8L761.7,165.8L762.7,165.9L763.7,165.9L764.7,166.0L765.7,166.0L766.7,166.1L767.7,166.1L768.7,166.2L769.7,166.2L770.7,166.3L771.7,166.3L772.7,166.4L773.7,166.4L774.7,166.5L775.7,166.6L776.7,166.6L777.7,166.7L778.7,166.7L779.7,166.8L780.7,166.8L781.7,166.9L782.7,166.9L783.7,167.0L784.7,167.0L785.7,167.1L786.7,167.1L787.7,167.2L788.7,167.2L789.7,167.2L790.7,167.3L791.7,167.3L792.7,167.3L793.7,167.4L794.7,167.4L795.7,167.4L796.7,167.4L797.7,167.4L798.7,167.4L799.7,167.4L800.7,167.4L801.7,167.4L802.7,167.3L803.7,167.3L804.7,167.3L805.7,167.2L806.7,167.2L807.7,167.1L808.7,167.1L809.7,167.0L810.7,166.9L811.7,166.9L812.7,166.8L813.7,166.7L814.7,166.6L815.7,166.5L816.7,166.4L817.7,166.4L818.7,166.3L819.7,166.2L820.7,166.1L821.7,166.0L822.6,165.9L823.6,165.7L824.6,165.6L825.6,165.5L826.6,165.4L827.6,165.3L828.6,165.2L829.6,165.1L830.6,165.0L831.6,164.8L832.6,164.7L833.6,164.5L834.5,164.3L835.5,164.0L836.5,163.8L837.4,163.5L838.4,163.2L839.3,162.9L840.3,162.5L841.2,162.2L842.1,161.8L843.1,161.4L844.0,161.0L844.9,160.5L845.8,160.1L846.6,159.6L847.5,159.1L848.4,158.6L849.2,158.1L850.1,157.6L850.9,157.0L851.8,156.5L852.6,155.9L853.4,155.3L854.2,154.7L855.0,154.1L855.8,153.5L856.5,152.8L857.3,152.2L858.0,151.5L858.7,150.8L859.5,150.1L860.2,149.4L860.8,148.7L861.5,147.9L862.2,147.2L862.8,146.4L863.5,145.7L864.2,144.9L864.8,144.1L865.5,143.4L866.1,142.6L866.8,141.9L867.5,141.1L868.1,140.4L868.8,139.7L869.5,138.9L870.2,138.2L870.8,137.4L871.5,136.7L872.2,135.9L872.8,135.2L873.5,134.5L874.2,133.8L875.0,133.1L875.7,132.4L876.5,131.8L877.3,131.3L878.2,130.8L879.1,130.3L880.0,129.9L880.9,129.5L881.8,129.1L882.8,128.8L883.7,128.4L884.6,128.0L885.5,127.6L886.5,127.2L887.4,126.8L888.2,126.3L889.1,125.9L890.0,125.4L890.9,124.9L891.8,124.4L892.6,123.9L893.5,123.4L894.3,122.8L895.1,122.3L896.0,121.7L896.8,121.1L897.6,120.5L898.4,119.9L899.2,119.3L899.9,118.7L900.7,118.0L901.5,117.4L902.3,116.8L903.1,116.1L903.8,115.5L904.6,114.9L905.4,114.3L906.2,113.6L906.9,113.0L907.7,112.3L908.5,111.7L909.2,111.0L910.0,110.4L910.7,109.7L911.5,109.1L912.3,108.4L913.1,107.8L913.9,107.2L914.7,106.6L915.5,106.1L916.4,105.6L917.2,105.1L918.1,104.6L919.0,104.2L919.9,103.7L920.8,103.3L921.7,102.9L922.6,102.5L923.6,102.1L924.5,101.8L925.5,101.5L926.4,101.2L927.4,100.9L928.4,100.7L929.3,100.5L930.3,100.4L931.3,100.4L932.3,100.4L933.3,100.4L934.3,100.6L935.3,100.7L936.3,101.0L937.2,101.2L938.2,101.6L939.1,101.9L940.0,102.4L940.9,102.8L941.7,103.3L942.5,103.9L943.3,104.6L944.0,105.2L944.8,105.9L945.5,106.6L946.1,107.4L946.8,108.1L947.5,108.8L948.2,109.5L949.0,110.2L949.7,110.9L950.4,111.6L951.2,112.2L951.9,112.9L952.7,113.6L953.4,114.3L954.1,114.9L954.9,115.6L955.6,116.3L956.4,116.9L957.1,117.6L957.9,118.3L958.6,119.0L959.3,119.6L960.1,120.3L960.8,121.0L961.6,121.6L962.3,122.3L963.1,123.0L963.8,123.7L964.5,124.4L965.2,125.1L966.0,125.7L966.7,126.4L967.4,127.1L968.1,127.8L968.8,128.5L969.6,129.2L970.3,129.9L971.0,130.6L971.8,131.2L972.6,131.9L973.3,132.5L974.1,133.1L974.9,133.7L975.7,134.3L976.6,134.9L977.4,135.4L978.2,136.0L979.1,136.5L979.9,137.0L980.8,137.5L981.7,138.0L982.6,138.4L983.5,138.9L984.4,139.3L985.3,139.7L986.2,140.1L987.2,140.4L988.1,140.7L989.1,141.0L990.0,141.3L991.0,141.5L992.0,141.6L993.0,141.8L994.0,141.9L995.0,141.9L996.0,142.0L997.0,142.0L998.0,142.0L999.0,142.1L1000.0,142.1L1001.0,142.1L1002.0,142.1L1003.0,142.1L1004.0,142.1L1005.0,142.2L1006.0,142.2 M1006.0,142.2L1005.9,143.2L1005.8,144.2L1005.6,145.2L1005.4,146.2L1005.1,147.1L1004.9,148.1L1004.5,149.0L1004.2,150.0L1003.9,150.9L1003.5,151.8L1003.1,152.8L1002.6,153.7L1002.2,154.5L1001.7,155.4L1001.2,156.3L1000.6,157.1L1000.0,157.9L999.4,158.7L998.8,159.5L998.2,160.3L997.5,161.0L996.8,161.7L996.1,162.5L995.4,163.2L994.7,163.9L994.0,164.6L993.2,165.3L992.5,165.9L991.8,166.6L991.0,167.3L990.3,168.0L989.5,168.6L988.8,169.3L988.0,169.9L987.2,170.5L986.4,171.2L985.6,171.8L984.8,172.4L984.0,172.9L983.2,173.5L982.3,174.1L981.5,174.6L980.6,175.1L979.8,175.6L978.9,176.1L978.0,176.5L977.1,177.0L976.2,177.4L975.3,177.8L974.4,178.2L973.4,178.6L972.5,179.0L971.6,179.4L970.6,179.7L969.7,180.0L968.7,180.4L967.8,180.7L966.8,181.0L965.9,181.3L964.9,181.6L964.0,181.9L963.0,182.2L962.1,182.5L961.1,182.7L960.1,183.0L959.1,183.2L958.2,183.4L957.2,183.6L956.2,183.8L955.2,184.0L954.2,184.2L953.2,184.4L952.2,184.5L951.3,184.7L950.3,184.8L949.3,185.0L948.3,185.1L947.3,185.3L946.3,185.4L945.3,185.6L944.3,185.8L943.3,185.9L942.4,186.1L941.4,186.3L940.4,186.5L939.4,186.6L938.4,186.8L937.4,187.0L936.4,187.1L935.4,187.3L934.5,187.5L933.5,187.7L932.5,187.8L931.5,188.0L930.5,188.2L929.5,188.3L928.5,188.5L927.5,188.7L926.6,188.8L925.6,189.0L924.6,189.2L923.6,189.3L922.6,189.5L921.6,189.7L920.6,189.8L919.6,190.0L918.6,190.2L917.7,190.4L916.7,190.5L915.7,190.7L914.7,190.9L913.7,191.0L912.7,191.2L911.7,191.4L910.7,191.6L909.8,191.7L908.8,191.9L907.8,192.1L906.8,192.3L905.8,192.4L904.8,192.6L903.8,192.8L902.9,193.0L901.9,193.2L900.9,193.4L899.9,193.6L898.9,193.8L898.0,194.1L897.0,194.3L896.0,194.5L895.0,194.7L894.1,194.9L893.1,195.2L892.1,195.4L891.1,195.6L890.1,195.8L889.2,196.1L888.2,196.3L887.2,196.5L886.2,196.7L885.3,196.9L884.3,197.1L883.3,197.3L882.3,197.5L881.3,197.7L880.3,197.8L879.3,198.0L878.3,198.2L877.4,198.3L876.4,198.4L875.4,198.5L874.4,198.6L873.4,198.7L872.4,198.8L871.4,198.9L870.4,198.9L869.4,199.0L868.4,199.0L867.4,199.0L866.4,199.0L865.4,198.9L864.4,198.9L863.4,198.9L862.4,198.8L861.4,198.8L860.4,198.7L859.4,198.6L858.4,198.6L857.4,198.5L856.4,198.4L855.4,198.4L854.4,198.3L853.4,198.2L852.4,198.2L851.4,198.1L850.4,198.0L849.4,198.0L848.4,198.0L847.4,198.0L846.4,197.9L845.4,198.0L844.4,198.0L843.3,198.0L842.3,198.0L841.3,198.1L840.3,198.1L839.3,198.2L838.3,198.2L837.3,198.3L836.3,198.4L835.3,198.4L834.3,198.5L833.3,198.6L832.3,198.6L831.3,198.7L830.3,198.8L829.4,198.9L828.4,199.1L827.4,199.2L826.4,199.3L825.4,199.5L824.4,199.7L823.4,199.9L822.4,200.1L821.5,200.3L820.5,200.6L819.5,200.8L818.6,201.1L817.6,201.5L816.7,201.8L815.8,202.2L814.9,202.6L814.0,203.1L813.1,203.5L812.2,204.0L811.3,204.5L810.5,205.0L809.6,205.6L808.8,206.1L808.0,206.7L807.1,207.2L806.3,207.8L805.5,208.4L804.7,209.0L803.8,209.5L803.0,210.1L802.2,210.7L801.4,211.3L800.6,211.8L799.7,212.4L798.9,213.0L798.1,213.5L797.3,214.1L796.5,214.7L795.7,215.3L794.9,215.9L794.1,216.5L793.3,217.1L792.5,217.7L791.7,218.4L790.9,219.0L790.1,219.6L789.3,220.1L788.4,220.7L787.6,221.3L786.8,221.8L785.9,222.4L785.1,222.9L784.2,223.4L783.3,223.9L782.5,224.4L781.6,224.9L780.7,225.3L779.8,225.8L778.9,226.2L778.0,226.6L777.0,226.9L776.1,227.2L775.1,227.4L774.1,227.5L773.1,227.6L772.1,227.6L771.1,227.4L770.2,227.2L769.2,227.0L768.3,226.6L767.3,226.3L766.4,225.9L765.5,225.5L764.6,225.0L763.7,224.5L762.8,224.1L762.0,223.5L761.2,223.0L760.3,222.4L759.5,221.8L758.7,221.2L757.9,220.6L757.1,220.0L756.3,219.4L755.5,218.8L754.8,218.2L754.0,217.5L753.2,216.9L752.4,216.3L751.6,215.7L750.8,215.1L750.0,214.5L749.2,213.8L748.5,213.2L747.7,212.5L746.9,211.9L746.2,211.2L745.4,210.6L744.6,209.9L743.9,209.3L743.1,208.7L742.3,208.0L741.6,207.4L740.8,206.8L740.0,206.2L739.2,205.6L738.3,205.0L737.5,204.4L736.7,203.9L735.8,203.4L734.9,202.9L734.1,202.4L733.2,201.9L732.3,201.5L731.4,201.0L730.5,200.6L729.6,200.2L728.6,199.8L727.7,199.4L726.8,199.0L725.9,198.6L724.9,198.3L724.0,197.9L723.1,197.6L722.1,197.3L721.2,196.9L720.2,196.6L719.3,196.3L718.3,196.0L717.4,195.7L716.4,195.4L715.4,195.1L714.5,194.8L713.5,194.5L712.6,194.2L711.6,193.9L710.6,193.7L709.7,193.4L708.7,193.1L707.7,192.9L706.8,192.6L705.8,192.4L704.8,192.2L703.8,191.9L702.9,191.7L701.9,191.5L700.9,191.3L699.9,191.1L698.9,190.9L698.0,190.7L697.0,190.5L696.0,190.3L695.0,190.1L694.0,189.9L693.0,189.7L692.1,189.5L691.1,189.3L690.1,189.2L689.1,189.0L688.1,188.8L687.1,188.6L686.1,188.5L685.2,188.3L684.2,188.1L683.2,188.0L682.2,187.8L681.2,187.6L680.2,187.5L679.2,187.3L678.2,187.1L677.2,187.0L676.3,186.8L675.3,186.7L674.3,186.5L673.3,186.3L672.3,186.2L671.3,186.0L670.3,185.9L669.3,185.8L668.3,185.6L667.3,185.5L666.3,185.3L665.3,185.2L664.4,185.1L663.4,184.9L662.4,184.8L661.4,184.7L660.4,184.6L659.4,184.4L658.4,184.3L657.4,184.2L656.4,184.1L655.4,184.0L654.4,183.8L653.4,183.7L652.4,183.6L651.4,183.5L650.4,183.4L649.4,183.3L648.4,183.1L647.4,183.0L646.4,182.9L645.5,182.8L644.5,182.7L643.5,182.6L642.5,182.4L641.5,182.3L640.5,182.2L639.5,182.1L638.5,182.0L637.5,181.8L636.5,181.7L635.5,181.6" fill="none" stroke="#00ff00" stroke-width="1.85" stroke-linejoin="round"/>
<path d="M635.5,174.7L636.2,174.0L637.0,173.3L637.7,172.6L638.4,171.9L639.1,171.3L639.9,170.6L640.7,170.1L641.6,169.5L642.5,169.1L643.4,168.7L644.3,168.3L645.3,168.0L646.2,167.8L647.2,167.6L648.2,167.4L649.2,167.2L650.2,167.0L651.1,166.9L652.1,166.7L653.1,166.6L654.1,166.4L655.1,166.3L656.1,166.2L657.1,166.0L658.1,165.9L659.1,165.8L660.1,165.7L661.1,165.6L662.1,165.5L663.1,165.4L664.1,165.3L665.1,165.2L666.1,165.1L667.0,165.0L668.0,164.9L669.0,164.9L670.0,164.8L671.0,164.7L672.0,164.6L673.0,164.6L674.0,164.5L675.0,164.4L676.0,164.4L677.0,164.3L678.0,164.2L679.0,164.2L680.0,164.1L681.0,164.1L682.0,164.0L683.0,163.9L684.0,163.9L685.0,163.8L686.0,163.7L687.0,163.7L688.0,163.6L689.0,163.5L690.0,163.4L691.0,163.4L692.0,163.3L693.0,163.2L694.0,163.1L695.0,163.0L696.0,163.0L697.0,162.9L698.0,162.8L699.0,162.7L700.0,162.6L701.0,162.5L702.0,162.5L703.0,162.4L704.0,162.3L705.0,162.2L706.0,162.1L707.0,162.0L708.0,161.9L709.0,161.8L710.0,161.7L711.0,161.7L712.0,161.6L713.0,161.5L714.0,161.4L715.0,161.3L716.0,161.2L717.0,161.1L718.0,161.1L719.0,161.0L720.0,160.9L721.0,160.8L722.0,160.7L723.0,160.6L724.0,160.6L724.9,160.5L725.9,160.4L726.9,160.3L727.9,160.2L728.9,160.2L729.9,160.1L730.9,160.0L731.9,159.9L732.9,159.8L733.9,159.8L734.9,159.7L735.9,159.6L736.9,159.5L737.9,159.4L738.9,159.3L739.9,159.2L740.9,159.2L741.9,159.1L742.9,159.0L743.9,158.9L744.9,158.8L745.9,158.8L746.9,158.7L747.9,158.6L748.9,158.5L749.9,158.5L750.9,158.4L751.9,158.4L752.9,158.3L753.9,158.3L754.9,158.3L755.9,158.3L756.9,158.2L757.9,158.2L758.9,158.2L759.9,158.2L760.9,158.2L761.9,158.2L762.9,158.3L763.9,158.3L764.9,158.3L765.9,158.4L766.9,158.4L767.9,158.5L768.9,158.5L769.9,158.6L770.9,158.6L771.9,158.7L772.9,158.8L773.9,158.8L774.9,158.9L775.9,159.0L776.9,159.1L777.9,159.1L778.9,159.2L779.9,159.3L780.9,159.4L781.9,159.4L782.9,159.5L783.9,159.6L784.9,159.7L785.9,159.8L786.9,159.8L787.9,159.9L788.9,160.0L789.9,160.1L790.9,160.1L791.9,160.2L792.9,160.3L793.9,160.3L794.9,160.4L795.9,160.4L796.9,160.5L797.9,160.5L798.9,160.6L799.9,160.6L800.9,160.6L801.9,160.6L802.9,160.6L803.9,160.6L804.9,160.6L805.9,160.6L806.9,160.5L807.9,160.5L808.9,160.5L809.9,160.4L810.9,160.4L811.9,160.3L812.9,160.3L813.9,160.3L814.9,160.2L815.9,160.2L816.9,160.1L817.9,160.1L818.9,160.0L819.9,160.0L820.9,159.9L821.9,159.9L822.9,159.8L823.9,159.7L824.9,159.6L825.9,159.5L826.9,159.3L827.9,159.2L828.9,159.0L829.8,158.9L830.8,158.7L831.8,158.5L832.8,158.3L833.8,158.0L834.7,157.8L835.7,157.5L836.7,157.2L837.6,156.9L838.6,156.6L839.5,156.3L840.4,156.0L841.4,155.6L842.3,155.2L843.2,154.8L844.1,154.4L845.0,154.0L845.9,153.5L846.8,153.0L847.6,152.5L848.5,151.9L849.3,151.4L850.1,150.8L850.9,150.2L851.7,149.5L852.5,148.9L853.2,148.3L854.0,147.6L854.7,146.9L855.5,146.3L856.2,145.6L856.9,144.9L857.7,144.2L858.4,143.5L859.1,142.8L859.8,142.1L860.5,141.4L861.2,140.7L861.9,140.0L862.6,139.2L863.3,138.5L863.9,137.7L864.6,137.0L865.3,136.2L865.9,135.5L866.6,134.7L867.2,134.0L867.8,133.2L868.5,132.4L869.1,131.6L869.7,130.8L870.3,130.0L870.9,129.2L871.5,128.4L872.0,127.6L872.6,126.7L873.2,125.9L873.7,125.1L874.3,124.3L874.8,123.4L875.4,122.6L876.0,121.8L876.5,120.9L877.1,120.1L877.6,119.2L878.1,118.4L878.7,117.5L879.2,116.7L879.7,115.9L880.3,115.0L880.8,114.2L881.4,113.4L882.0,112.6L882.6,111.8L883.3,111.0L883.9,110.3L884.6,109.5L885.3,108.8L886.0,108.1L886.7,107.4L887.4,106.7L888.2,106.0L888.9,105.3L889.6,104.6L890.4,104.0L891.1,103.3L891.9,102.7L892.7,102.1L893.5,101.5L894.3,100.8L895.1,100.2L895.9,99.6L896.7,99.0L897.5,98.4L898.3,97.8L899.0,97.2L899.8,96.5L900.6,95.9L901.3,95.2L902.0,94.5L902.7,93.8L903.4,93.1L904.1,92.4L904.8,91.6L905.5,90.9L906.1,90.1L906.8,89.4L907.4,88.6L908.1,87.8L908.7,87.0L909.3,86.3L909.9,85.5L910.6,84.7L911.2,83.9L911.8,83.1L912.4,82.3L913.1,81.6L913.7,80.8L914.3,80.0L914.9,79.2L915.6,78.5L916.2,77.7L916.9,76.9L917.5,76.2L918.2,75.4L918.9,74.7L919.6,74.0L920.3,73.3L921.0,72.5L921.7,71.8L922.4,71.1L923.1,70.5L923.9,69.8L924.6,69.1L925.3,68.4L926.1,67.7L926.8,67.1L927.6,66.4L928.3,65.8L929.1,65.1L929.9,64.5L930.7,63.9L931.5,63.2L932.3,62.6L933.1,62.1L933.9,61.5L934.7,61.0L935.6,60.4L936.5,59.9L937.3,59.5L938.2,59.0L939.2,58.6L940.1,58.2L941.0,57.9L942.0,57.6L942.9,57.3L943.9,57.1L944.9,56.9L945.9,56.8L946.9,56.7L947.9,56.7L948.9,56.7L949.9,56.8L950.8,56.9L951.8,57.1L952.8,57.4L953.7,57.7L954.7,58.1L955.6,58.4L956.5,58.8L957.4,59.3L958.3,59.8L959.1,60.3L960.0,60.8L960.8,61.4L961.6,62.0L962.4,62.6L963.2,63.2L964.0,63.8L964.8,64.4L965.6,65.0L966.4,65.6L967.2,66.2L968.0,66.9L968.8,67.5L969.5,68.1L970.3,68.7L971.1,69.3L971.9,70.0L972.7,70.6L973.4,71.3L974.2,71.9L975.0,72.5L975.7,73.2L976.5,73.8L977.2,74.5L978.0,75.2L978.7,75.8L979.5,76.5L980.3,77.1L981.0,77.8L981.8,78.5L982.5,79.1L983.3,79.8L984.0,80.4L984.8,81.1L985.5,81.8L986.2,82.5L987.0,83.1L987.7,83.8L988.5,84.5L989.2,85.2L989.9,85.8L990.7,86.5L991.4,87.2L992.2,87.8L992.9,88.5L993.7,89.2L994.5,89.8L995.2,90.4L996.0,91.1L996.8,91.7L997.6,92.3L998.4,92.9L999.2,93.5L1000.0,94.1L1000.8,94.7L1001.6,95.3L1002.4,95.9L1003.2,96.5L1004.0,97.1L1004.8,97.7L1005.6,98.3 M1005.6,98.3L1005.8,99.3L1006.0,100.3L1006.0,101.2L1006.0,102.2L1006.0,103.2L1005.9,104.2L1005.8,105.2L1005.6,106.2L1005.5,107.2L1005.3,108.2L1005.1,109.2L1004.9,110.2L1004.7,111.1L1004.4,112.1L1004.1,113.0L1003.8,114.0L1003.5,114.9L1003.2,115.9L1002.9,116.8L1002.6,117.8L1002.2,118.7L1001.9,119.7L1001.6,120.6L1001.3,121.6L1001.0,122.6L1000.7,123.5L1000.4,124.5L1000.1,125.4L999.8,126.4L999.5,127.3L999.2,128.3L998.9,129.2L998.5,130.2L998.2,131.1L997.9,132.0L997.5,133.0L997.2,133.9L996.8,134.8L996.4,135.8L996.0,136.7L995.6,137.6L995.2,138.5L994.8,139.5L994.4,140.4L994.0,141.3L993.6,142.2L993.2,143.1L992.8,144.0L992.3,144.9L991.9,145.8L991.5,146.7L991.0,147.6L990.6,148.5L990.1,149.4L989.6,150.3L989.2,151.2L988.7,152.0L988.2,152.9L987.7,153.8L987.2,154.7L986.7,155.5L986.2,156.4L985.7,157.2L985.2,158.1L984.7,159.0L984.1,159.8L983.6,160.6L983.0,161.5L982.5,162.3L981.9,163.1L981.4,164.0L980.8,164.8L980.2,165.6L979.6,166.4L979.0,167.2L978.3,167.9L977.7,168.7L977.0,169.5L976.4,170.2L975.7,171.0L975.0,171.7L974.3,172.4L973.6,173.1L972.9,173.8L972.2,174.5L971.4,175.2L970.7,175.9L969.9,176.5L969.2,177.2L968.4,177.8L967.6,178.4L966.9,179.1L966.1,179.7L965.3,180.3L964.5,180.9L963.6,181.4L962.8,182.0L962.0,182.6L961.1,183.1L960.3,183.6L959.4,184.1L958.6,184.6L957.7,185.1L956.8,185.6L955.9,186.0L955.0,186.5L954.1,186.9L953.2,187.3L952.3,187.7L951.4,188.1L950.4,188.5L949.5,188.9L948.6,189.3L947.7,189.6L946.7,190.0L945.8,190.3L944.8,190.7L943.9,191.0L943.0,191.3L942.0,191.7L941.1,192.0L940.1,192.3L939.1,192.6L938.2,192.9L937.2,193.2L936.3,193.5L935.3,193.7L934.4,194.0L933.4,194.3L932.4,194.6L931.5,194.9L930.5,195.2L929.6,195.5L928.6,195.8L927.6,196.0L926.7,196.3L925.7,196.6L924.8,196.9L923.8,197.2L922.9,197.5L921.9,197.9L921.0,198.2L920.0,198.5L919.1,198.8L918.1,199.1L917.2,199.4L916.2,199.7L915.3,200.0L914.3,200.4L913.4,200.7L912.4,201.0L911.5,201.3L910.5,201.6L909.6,201.9L908.6,202.2L907.7,202.6L906.7,202.9L905.8,203.2L904.8,203.5L903.9,203.8L902.9,204.1L902.0,204.5L901.0,204.8L900.1,205.1L899.1,205.4L898.2,205.7L897.2,206.1L896.3,206.4L895.3,206.7L894.4,207.0L893.4,207.4L892.5,207.7L891.6,208.0L890.6,208.4L889.7,208.7L888.7,209.0L887.8,209.4L886.9,209.7L885.9,210.1L885.0,210.5L884.1,210.8L883.1,211.2L882.2,211.5L881.3,211.9L880.3,212.3L879.4,212.6L878.5,213.0L877.5,213.3L876.6,213.6L875.6,214.0L874.7,214.3L873.7,214.6L872.8,214.9L871.8,215.2L870.9,215.5L869.9,215.8L868.9,216.0L868.0,216.3L867.0,216.5L866.0,216.7L865.0,217.0L864.1,217.2L863.1,217.3L862.1,217.5L861.1,217.7L860.1,217.9L859.1,218.0L858.1,218.2L857.2,218.3L856.2,218.4L855.2,218.6L854.2,218.7L853.2,218.8L852.2,218.9L851.2,219.1L850.2,219.2L849.2,219.3L848.2,219.4L847.2,219.5L846.2,219.6L845.2,219.7L844.2,219.8L843.2,220.0L842.2,220.1L841.3,220.2L840.3,220.3L839.3,220.3L838.3,220.4L837.3,220.4L836.3,220.5L835.3,220.5L834.3,220.6L833.3,220.6L832.3,220.6L831.3,220.7L830.3,220.7L829.3,220.8L828.3,220.8L827.3,220.9L826.3,221.0L825.3,221.1L824.3,221.2L823.3,221.3L822.3,221.5L821.3,221.7L820.3,221.9L819.4,222.1L818.4,222.4L817.5,222.7L816.5,223.1L815.6,223.4L814.7,223.8L813.8,224.3L812.9,224.7L812.0,225.2L811.1,225.7L810.2,226.2L809.4,226.7L808.5,227.2L807.7,227.7L806.9,228.3L806.0,228.8L805.2,229.4L804.4,230.0L803.6,230.6L802.8,231.2L802.0,231.8L801.2,232.4L800.4,232.9L799.6,233.6L798.8,234.2L798.0,234.8L797.2,235.4L796.5,236.1L795.7,236.8L795.0,237.4L794.2,238.1L793.5,238.8L792.8,239.5L792.1,240.2L791.3,240.9L790.6,241.6L789.9,242.2L789.2,242.9L788.4,243.6L787.7,244.3L786.9,244.9L786.2,245.6L785.4,246.3L784.7,246.9L784.0,247.6L783.2,248.3L782.5,248.9L781.7,249.6L780.9,250.3L780.2,250.9L779.4,251.5L778.6,252.2L777.8,252.8L777.0,253.4L776.2,254.0L775.4,254.5L774.6,255.1L773.8,255.7L773.0,256.3L772.1,256.8L771.3,257.3L770.4,257.8L769.5,258.3L768.6,258.7L767.7,259.1L766.7,259.4L765.8,259.7L764.8,259.9L763.8,260.1L762.9,260.2L761.9,260.2L760.9,260.0L759.9,259.8L759.0,259.5L758.0,259.2L757.1,258.8L756.2,258.4L755.3,257.9L754.4,257.5L753.5,257.0L752.7,256.5L751.8,256.0L751.0,255.4L750.2,254.9L749.4,254.3L748.6,253.7L747.8,253.0L747.0,252.4L746.3,251.7L745.5,251.1L744.7,250.4L744.0,249.8L743.3,249.1L742.5,248.4L741.8,247.8L741.0,247.1L740.3,246.4L739.5,245.8L738.7,245.1L738.0,244.5L737.2,243.9L736.4,243.2L735.6,242.6L734.9,242.0L734.1,241.3L733.3,240.7L732.5,240.1L731.7,239.5L730.9,238.9L730.1,238.3L729.4,237.6L728.6,237.0L727.8,236.4L726.9,235.8L726.1,235.3L725.3,234.7L724.5,234.1L723.7,233.5L722.9,233.0L722.0,232.4L721.2,231.8L720.4,231.3L719.5,230.7L718.7,230.2L717.8,229.7L717.0,229.1L716.1,228.6L715.3,228.1L714.4,227.5L713.6,227.0L712.7,226.5L711.9,226.0L711.0,225.4L710.2,224.9L709.3,224.4L708.5,223.9L707.6,223.4L706.8,222.8L705.9,222.3L705.0,221.8L704.2,221.3L703.3,220.8L702.4,220.3L701.6,219.9L700.7,219.4L699.8,218.9L698.9,218.4L698.0,218.0L697.1,217.6L696.2,217.1L695.3,216.7L694.4,216.3L693.5,215.8L692.6,215.4L691.7,215.0L690.8,214.6L689.9,214.1L689.0,213.7L688.1,213.3L687.2,212.8L686.3,212.4L685.4,211.9L684.5,211.4L683.6,211.0L682.7,210.5L681.9,210.0L681.0,209.6L680.1,209.1L679.2,208.6L678.4,208.1L677.5,207.6L676.6,207.2L675.7,206.7L674.8,206.2L674.0,205.7L673.1,205.3L672.2,204.8L671.3,204.3L670.4,203.9L669.5,203.4L668.6,203.0L667.7,202.5L666.8,202.1L665.9,201.7L665.0,201.3L664.1,200.9L663.2,200.5L662.2,200.1L661.3,199.7L660.4,199.4L659.4,199.0L658.5,198.6L657.6,198.3L656.6,198.0L655.7,197.6L654.7,197.3L653.8,197.0L652.8,196.7L651.9,196.4L650.9,196.1L650.0,195.8L649.0,195.5L648.1,195.2L647.1,194.9L646.1,194.6L645.2,194.3L644.2,194.1L643.3,193.8L642.3,193.5L641.3,193.3L640.3,193.0L639.4,192.8L638.4,192.5L637.4,192.3L636.5,192.1L635.5,191.8" fill="none" stroke="#0000ff" stroke-width="1.85" stroke-linejoin="round"/>
<path d="M635.5,174.5L636.2,173.8L636.9,173.0L637.5,172.3L638.2,171.6L638.9,170.8L639.6,170.2L640.4,169.5L641.2,168.9L642.0,168.4L642.9,167.9L643.8,167.5L644.7,167.2L645.7,166.8L646.6,166.6L647.6,166.3L648.6,166.1L649.6,165.9L650.5,165.7L651.5,165.5L652.5,165.3L653.5,165.1L654.5,165.0L655.5,164.8L656.5,164.6L657.4,164.5L658.4,164.3L659.4,164.2L660.4,164.0L661.4,163.9L662.4,163.8L663.4,163.7L664.4,163.5L665.4,163.4L666.4,163.3L667.4,163.2L668.4,163.1L669.4,163.0L670.3,162.9L671.3,162.9L672.3,162.8L673.3,162.7L674.3,162.6L675.3,162.5L676.3,162.4L677.3,162.4L678.3,162.3L679.3,162.2L680.3,162.1L681.3,162.0L682.3,162.0L683.3,161.9L684.3,161.8L685.3,161.7L686.3,161.6L687.3,161.5L688.3,161.5L689.3,161.4L690.3,161.3L691.3,161.2L692.3,161.1L693.3,161.0L694.3,160.9L695.3,160.8L696.3,160.7L697.3,160.6L698.2,160.5L699.2,160.4L700.2,160.3L701.2,160.2L702.2,160.1L703.2,160.0L704.2,159.9L705.2,159.8L706.2,159.7L707.2,159.6L708.2,159.5L709.2,159.3L710.2,159.2L711.2,159.1L712.2,159.0L713.2,158.9L714.2,158.8L715.2,158.7L716.2,158.6L717.1,158.5L718.1,158.4L719.1,158.3L720.1,158.2L721.1,158.1L722.1,158.0L723.1,157.9L724.1,157.8L725.1,157.7L726.1,157.6L727.1,157.5L728.1,157.4L729.1,157.4L730.1,157.3L731.1,157.2L732.1,157.1L733.1,157.0L734.1,156.9L735.1,156.8L736.1,156.7L737.1,156.6L738.0,156.4L739.0,156.3L740.0,156.2L741.0,156.1L742.0,156.0L743.0,155.9L744.0,155.8L745.0,155.7L746.0,155.6L747.0,155.5L748.0,155.4L749.0,155.3L750.0,155.2L751.0,155.2L752.0,155.1L753.0,155.0L754.0,154.9L755.0,154.9L756.0,154.8L757.0,154.8L758.0,154.7L759.0,154.7L760.0,154.7L761.0,154.6L762.0,154.6L763.0,154.6L764.0,154.6L765.0,154.6L766.0,154.7L767.0,154.7L768.0,154.7L769.0,154.8L770.0,154.8L771.0,154.9L772.0,154.9L773.0,155.0L774.0,155.1L775.0,155.2L776.0,155.3L777.0,155.3L777.9,155.4L778.9,155.5L779.9,155.6L780.9,155.7L781.9,155.8L782.9,155.9L783.9,156.0L784.9,156.1L785.9,156.2L786.9,156.3L787.9,156.4L788.9,156.5L789.9,156.6L790.9,156.7L791.9,156.8L792.9,156.8L793.9,156.9L794.9,157.0L795.9,157.1L796.9,157.1L797.9,157.2L798.9,157.2L799.9,157.3L800.9,157.3L801.9,157.3L802.9,157.4L803.9,157.4L804.9,157.4L805.9,157.4L806.9,157.4L807.9,157.4L808.9,157.4L809.9,157.4L810.9,157.3L811.9,157.3L812.9,157.3L813.9,157.3L814.9,157.2L815.9,157.2L816.9,157.1L817.9,157.1L818.9,157.0L819.9,156.9L820.9,156.9L821.9,156.8L822.8,156.7L823.8,156.5L824.8,156.4L825.8,156.3L826.8,156.1L827.8,156.0L828.8,155.8L829.8,155.6L830.7,155.4L831.7,155.2L832.7,155.0L833.7,154.8L834.6,154.5L835.6,154.2L836.6,154.0L837.5,153.7L838.5,153.4L839.4,153.1L840.4,152.7L841.3,152.4L842.2,152.0L843.2,151.6L844.1,151.2L845.0,150.8L845.9,150.3L846.7,149.8L847.6,149.3L848.4,148.8L849.2,148.2L850.1,147.6L850.9,147.0L851.6,146.4L852.4,145.8L853.2,145.1L853.9,144.5L854.7,143.8L855.4,143.1L856.2,142.4L856.9,141.8L857.6,141.1L858.3,140.4L859.1,139.7L859.8,139.0L860.5,138.3L861.2,137.6L861.9,136.9L862.6,136.1L863.2,135.4L863.9,134.7L864.6,133.9L865.2,133.2L865.9,132.4L866.5,131.6L867.2,130.9L867.8,130.1L868.4,129.3L869.0,128.5L869.6,127.7L870.1,126.8L870.7,126.0L871.2,125.2L871.7,124.3L872.3,123.5L872.8,122.6L873.3,121.7L873.8,120.9L874.3,120.0L874.8,119.2L875.4,118.3L875.9,117.5L876.4,116.6L877.0,115.8L877.5,115.0L878.1,114.1L878.6,113.3L879.2,112.5L879.8,111.6L880.3,110.8L880.9,110.0L881.4,109.1L882.0,108.3L882.6,107.5L883.1,106.7L883.7,105.8L884.2,105.0L884.8,104.2L885.4,103.3L885.9,102.5L886.5,101.7L887.1,100.9L887.7,100.1L888.4,99.4L889.0,98.6L889.7,97.9L890.4,97.1L891.1,96.4L891.8,95.7L892.5,95.0L893.2,94.3L893.9,93.6L894.6,92.9L895.3,92.2L896.0,91.5L896.8,90.8L897.5,90.1L898.2,89.4L898.9,88.7L899.6,88.0L900.3,87.2L901.0,86.5L901.7,85.8L902.3,85.0L903.0,84.3L903.7,83.5L904.3,82.8L905.0,82.0L905.6,81.3L906.2,80.5L906.9,79.7L907.5,78.9L908.1,78.2L908.7,77.4L909.4,76.6L910.0,75.8L910.6,75.0L911.2,74.2L911.8,73.4L912.5,72.7L913.1,71.9L913.7,71.1L914.3,70.3L914.9,69.5L915.6,68.7L916.2,68.0L916.8,67.2L917.5,66.4L918.1,65.7L918.8,64.9L919.4,64.1L920.1,63.4L920.8,62.7L921.4,61.9L922.1,61.2L922.8,60.4L923.4,59.7L924.1,58.9L924.8,58.2L925.5,57.5L926.2,56.7L926.8,56.0L927.5,55.3L928.2,54.6L928.9,53.8L929.6,53.1L930.3,52.4L931.0,51.7L931.7,51.0L932.5,50.3L933.2,49.6L933.9,49.0L934.7,48.3L935.4,47.7L936.2,47.0L937.0,46.4L937.8,45.8L938.6,45.3L939.5,44.7L940.3,44.2L941.2,43.7L942.1,43.3L943.0,42.9L943.9,42.5L944.9,42.1L945.8,41.8L946.8,41.5L947.7,41.2L948.7,41.0L949.7,40.8L950.7,40.6L951.7,40.5L952.6,40.4L953.6,40.4L954.6,40.4L955.6,40.4L956.6,40.5L957.6,40.7L958.6,40.9L959.5,41.1L960.5,41.5L961.4,41.9L962.3,42.3L963.1,42.8L964.0,43.4L964.8,44.0L965.5,44.6L966.3,45.2L967.1,45.9L967.8,46.6L968.5,47.2L969.3,47.9L970.0,48.6L970.8,49.2L971.6,49.8L972.4,50.5L973.2,51.1L974.0,51.7L974.8,52.3L975.6,52.8L976.4,53.4L977.2,54.0L978.0,54.6L978.9,55.1L979.7,55.7L980.5,56.3L981.3,56.8L982.2,57.4L983.0,58.0L983.8,58.5L984.6,59.1L985.5,59.7L986.3,60.2L987.1,60.8L987.9,61.4L988.7,62.0L989.5,62.5L990.4,63.1L991.2,63.7L992.0,64.3L992.8,64.9L993.6,65.4L994.4,66.0L995.2,66.6L996.1,67.2L996.9,67.8L997.7,68.4L998.5,68.9L999.3,69.5L1000.1,70.1L1000.9,70.7L1001.7,71.3L1002.6,71.9L1003.4,72.4L1004.2,73.0L1005.0,73.6L1005.8,74.2 M1005.8,74.2L1005.9,75.2L1006.0,76.2L1005.9,77.2L1005.9,78.2L1005.7,79.1L1005.6,80.1L1005.4,81.1L1005.3,82.1L1005.1,83.1L1004.9,84.1L1004.7,85.1L1004.6,86.1L1004.4,87.0L1004.2,88.0L1004.0,89.0L1003.8,90.0L1003.6,91.0L1003.4,92.0L1003.2,92.9L1003.0,93.9L1002.8,94.9L1002.6,95.9L1002.4,96.9L1002.2,97.8L1002.0,98.8L1001.7,99.8L1001.5,100.8L1001.2,101.7L1001.0,102.7L1000.7,103.7L1000.4,104.6L1000.1,105.6L999.8,106.5L999.5,107.5L999.1,108.4L998.8,109.4L998.4,110.3L998.1,111.2L997.7,112.2L997.4,113.1L997.0,114.0L996.7,115.0L996.3,115.9L995.9,116.8L995.6,117.8L995.2,118.7L994.9,119.7L994.5,120.6L994.2,121.5L993.8,122.5L993.5,123.4L993.1,124.3L992.8,125.3L992.4,126.2L992.1,127.2L991.7,128.1L991.4,129.0L991.0,130.0L990.6,130.9L990.3,131.8L989.9,132.8L989.5,133.7L989.2,134.6L988.8,135.6L988.4,136.5L988.1,137.4L987.7,138.3L987.3,139.3L986.9,140.2L986.5,141.1L986.1,142.1L985.8,143.0L985.4,143.9L985.0,144.8L984.6,145.8L984.2,146.7L983.8,147.6L983.5,148.5L983.1,149.4L982.6,150.4L982.2,151.3L981.8,152.2L981.4,153.1L980.9,154.0L980.5,154.9L980.0,155.7L979.5,156.6L979.0,157.5L978.5,158.3L977.9,159.2L977.4,160.0L976.9,160.9L976.3,161.7L975.7,162.5L975.1,163.3L974.6,164.2L974.0,165.0L973.4,165.8L972.7,166.5L972.1,167.3L971.5,168.1L970.9,168.9L970.2,169.7L969.6,170.4L968.9,171.2L968.2,171.9L967.6,172.7L966.9,173.4L966.2,174.1L965.5,174.9L964.8,175.6L964.1,176.3L963.4,177.0L962.7,177.7L962.0,178.4L961.3,179.1L960.6,179.8L959.8,180.5L959.1,181.2L958.3,181.8L957.6,182.5L956.8,183.1L956.1,183.8L955.3,184.4L954.5,185.0L953.7,185.6L952.9,186.3L952.1,186.8L951.3,187.4L950.5,188.0L949.6,188.6L948.8,189.1L948.0,189.7L947.1,190.2L946.3,190.7L945.4,191.2L944.5,191.7L943.7,192.2L942.8,192.7L941.9,193.2L941.0,193.7L940.1,194.2L939.3,194.6L938.4,195.1L937.5,195.5L936.6,196.0L935.7,196.4L934.8,196.9L933.9,197.3L933.0,197.8L932.1,198.2L931.2,198.6L930.3,199.1L929.4,199.5L928.5,199.9L927.6,200.4L926.7,200.8L925.8,201.2L924.8,201.6L923.9,202.1L923.0,202.5L922.1,202.9L921.2,203.3L920.3,203.7L919.4,204.1L918.5,204.6L917.6,205.0L916.6,205.4L915.7,205.8L914.8,206.2L913.9,206.5L913.0,206.9L912.0,207.3L911.1,207.7L910.2,208.1L909.3,208.5L908.3,208.8L907.4,209.2L906.5,209.6L905.5,210.0L904.6,210.3L903.7,210.7L902.8,211.1L901.8,211.5L900.9,211.8L900.0,212.2L899.0,212.6L898.1,212.9L897.2,213.3L896.2,213.7L895.3,214.1L894.4,214.4L893.5,214.8L892.5,215.2L891.6,215.6L890.7,216.0L889.8,216.4L888.8,216.8L887.9,217.1L887.0,217.5L886.1,217.9L885.2,218.3L884.2,218.7L883.3,219.1L882.4,219.5L881.5,219.9L880.6,220.3L879.6,220.7L878.7,221.1L877.8,221.5L876.9,221.8L875.9,222.2L875.0,222.6L874.1,222.9L873.1,223.3L872.2,223.6L871.2,223.9L870.3,224.3L869.3,224.6L868.4,224.9L867.4,225.2L866.4,225.4L865.5,225.7L864.5,226.0L863.5,226.2L862.6,226.4L861.6,226.7L860.6,226.9L859.6,227.1L858.7,227.3L857.7,227.5L856.7,227.7L855.7,227.9L854.7,228.1L853.7,228.3L852.8,228.4L851.8,228.6L850.8,228.8L849.8,228.9L848.8,229.1L847.8,229.3L846.8,229.4L845.8,229.6L844.8,229.7L843.9,229.9L842.9,230.0L841.9,230.1L840.9,230.2L839.9,230.3L838.9,230.4L837.9,230.5L836.9,230.6L835.9,230.6L834.9,230.7L833.9,230.7L832.9,230.8L831.9,230.8L830.9,230.8L829.9,230.9L828.9,230.9L827.9,231.0L826.9,231.1L825.9,231.1L824.9,231.2L823.9,231.3L822.9,231.5L821.9,231.6L820.9,231.8L819.9,232.0L819.0,232.3L818.0,232.5L817.1,232.8L816.1,233.2L815.2,233.5L814.2,233.9L813.3,234.3L812.4,234.7L811.5,235.1L810.6,235.6L809.7,236.1L808.9,236.5L808.0,237.0L807.1,237.5L806.3,238.1L805.4,238.6L804.6,239.1L803.7,239.7L802.9,240.2L802.1,240.8L801.2,241.3L800.4,241.9L799.6,242.5L798.8,243.1L798.0,243.7L797.2,244.3L796.5,245.0L795.7,245.6L794.9,246.3L794.2,247.0L793.5,247.6L792.7,248.3L792.0,249.0L791.3,249.7L790.6,250.4L789.9,251.1L789.1,251.8L788.4,252.5L787.7,253.2L787.0,253.9L786.3,254.6L785.5,255.3L784.8,256.0L784.1,256.7L783.4,257.5L782.7,258.2L782.0,258.9L781.3,259.6L780.6,260.3L779.9,261.0L779.2,261.7L778.5,262.4L777.7,263.1L777.0,263.7L776.2,264.4L775.5,265.1L774.7,265.7L774.0,266.4L773.2,267.1L772.5,267.7L771.7,268.3L770.9,268.9L770.1,269.5L769.3,270.1L768.4,270.7L767.6,271.2L766.7,271.7L765.8,272.1L764.9,272.6L764.0,273.0L763.1,273.3L762.1,273.7L761.2,273.9L760.2,274.1L759.2,274.2L758.2,274.1L757.2,274.0L756.3,273.8L755.3,273.5L754.4,273.1L753.5,272.7L752.6,272.2L751.8,271.7L750.9,271.2L750.1,270.7L749.2,270.1L748.4,269.5L747.7,268.9L746.9,268.2L746.1,267.5L745.4,266.9L744.7,266.2L743.9,265.5L743.2,264.8L742.5,264.2L741.7,263.5L740.9,262.9L740.2,262.2L739.4,261.6L738.6,261.0L737.8,260.4L737.0,259.8L736.2,259.2L735.3,258.6L734.5,258.0L733.7,257.5L732.9,256.9L732.1,256.3L731.3,255.7L730.5,255.1L729.6,254.5L728.8,253.9L728.0,253.4L727.2,252.8L726.4,252.2L725.6,251.6L724.8,251.0L724.0,250.4L723.2,249.8L722.4,249.2L721.6,248.6L720.8,248.0L720.0,247.4L719.2,246.8L718.4,246.2L717.6,245.6L716.8,245.0L715.9,244.4L715.1,243.8L714.3,243.3L713.5,242.7L712.7,242.1L711.9,241.5L711.1,240.9L710.3,240.3L709.5,239.7L708.7,239.1L707.9,238.5L707.1,237.9L706.2,237.3L705.4,236.7L704.6,236.1L703.8,235.6L703.0,235.0L702.2,234.4L701.4,233.8L700.6,233.2L699.7,232.6L698.9,232.1L698.1,231.5L697.3,231.0L696.4,230.4L695.6,229.9L694.7,229.3L693.9,228.8L693.0,228.3L692.2,227.8L691.3,227.3L690.4,226.8L689.5,226.3L688.7,225.9L687.8,225.4L686.9,224.9L686.0,224.4L685.1,224.0L684.2,223.5L683.3,223.0L682.5,222.5L681.6,222.1L680.7,221.6L679.9,221.1L679.0,220.5L678.1,220.0L677.3,219.5L676.4,219.0L675.6,218.5L674.7,218.0L673.9,217.4L673.0,216.9L672.1,216.4L671.3,215.9L670.4,215.4L669.6,214.8L668.7,214.3L667.9,213.8L667.0,213.3L666.1,212.8L665.3,212.3L664.4,211.8L663.5,211.3L662.6,210.8L661.8,210.4L660.9,209.9L660.0,209.4L659.1,208.9L658.2,208.4L657.4,208.0L656.5,207.5L655.6,207.0L654.7,206.6L653.8,206.1L652.9,205.7L652.0,205.2L651.1,204.8L650.2,204.3L649.3,203.9L648.4,203.4L647.5,203.0L646.6,202.6L645.7,202.2L644.8,201.8L643.9,201.4L642.9,201.0L642.0,200.6L641.1,200.2L640.1,199.9L639.2,199.5L638.3,199.1L637.4,198.7L636.4,198.4L635.5,198.0" fill="none" stroke="#00ffff" stroke-width="1.85" stroke-linejoin="round"/>
<rect x="693" y="18.4" width="104.3" height="129.8" fill="#fff" stroke="#606060" stroke-width="1.4"/>
<path d="M697.3,37.5 H723.7" stroke="#000000" stroke-width="2"/>
<text x="726.8" y="41.6" style="font-size:14.5px">2 mV s<tspan dx="0.6" dy="-6.5" style="font-size:13.5px">-1</tspan></text>
<path d="M697.3,62.55 H723.7" stroke="#ff0000" stroke-width="2"/>
<text x="726.8" y="66.65" style="font-size:14.5px">5 mV s<tspan dx="0.6" dy="-6.5" style="font-size:13.5px">-1</tspan></text>
<path d="M697.3,87.6 H723.7" stroke="#00ff00" stroke-width="2"/>
<text x="726.8" y="91.7" style="font-size:14.5px">10 mV s<tspan dx="0.6" dy="-6.5" style="font-size:13.5px">-1</tspan></text>
<path d="M697.3,112.65 H723.7" stroke="#0000ff" stroke-width="2"/>
<text x="726.8" y="116.75" style="font-size:14.5px">20 mV s<tspan dx="0.6" dy="-6.5" style="font-size:13.5px">-1</tspan></text>
<path d="M697.3,137.7 H723.7" stroke="#00ffff" stroke-width="2"/>
<text x="726.8" y="141.8" style="font-size:14.5px">25 mV s<tspan dx="0.6" dy="-6.5" style="font-size:13.5px">-1</tspan></text>
<text x="640.6" y="55.3" style="font-size:29.5px;stroke-width:0">(b)</text>
<text transform="translate(557.6,165.2) rotate(-90)" text-anchor="middle" style="font-size:23px">Current (A)</text>
<text x="679.5" y="353.7" style="font-size:22px">Potential E(V <tspan dx="3.5" style="font-style:italic">vs.</tspan><tspan dx="-2"> Ag/AgCl)</tspan></text>
<rect x="93.4" y="378.7" width="386.8" height="288" fill="none" stroke="#000" stroke-width="1.5"/>
<path d="M93.4,666.7 v6 M163.73,666.7 v6 M234.05,666.7 v6 M304.38,666.7 v6 M374.7,666.7 v6 M445.02,666.7 v6 M128.56,666.7 v3.2 M198.89,666.7 v3.2 M269.21,666.7 v3.2 M339.54,666.7 v3.2 M409.86,666.7 v3.2 M480.19,666.7 v3.2 M93.4,666.7 h-6 M93.4,625.56 h-6 M93.4,584.42 h-6 M93.4,543.28 h-6 M93.4,502.14 h-6 M93.4,461 h-6 M93.4,419.86 h-6 M93.4,378.72 h-6 M93.4,646.13 h-3.2 M93.4,604.99 h-3.2 M93.4,563.85 h-3.2 M93.4,522.71 h-3.2 M93.4,481.57 h-3.2 M93.4,440.43 h-3.2 M93.4,399.29 h-3.2" stroke="#000" stroke-width="1.5" fill="none"/>
<text x="93.4" y="689.9" text-anchor="middle" class="tk" style="font-size:17.5px">0</text>
<text x="163.73" y="689.9" text-anchor="middle" class="tk" style="font-size:17.5px">5</text>
<text x="234.05" y="689.9" text-anchor="middle" class="tk" style="font-size:17.5px">10</text>
<text x="304.38" y="689.9" text-anchor="middle" class="tk" style="font-size:17.5px">15</text>
<text x="374.7" y="689.9" text-anchor="middle" class="tk" style="font-size:17.5px">20</text>
<text x="445.02" y="689.9" text-anchor="middle" class="tk" style="font-size:17.5px">25</text>
<text x="83.6" y="671.9" text-anchor="end" class="tk" style="font-size:17.5px">0.01</text>
<text x="83.6" y="630.76" text-anchor="end" class="tk" style="font-size:17.5px">0.02</text>
<text x="83.6" y="589.62" text-anchor="end" class="tk" style="font-size:17.5px">0.03</text>
<text x="83.6" y="548.48" text-anchor="end" class="tk" style="font-size:17.5px">0.04</text>
<text x="83.6" y="507.34" text-anchor="end" class="tk" style="font-size:17.5px">0.05</text>
<text x="83.6" y="466.2" text-anchor="end" class="tk" style="font-size:17.5px">0.06</text>
<text x="83.6" y="425.06" text-anchor="end" class="tk" style="font-size:17.5px">0.07</text>
<text x="83.6" y="383.92" text-anchor="end" class="tk" style="font-size:17.5px">0.08</text>
<path d="M121.1,639.4 L445.5,390.5" stroke="#ff0080" stroke-width="1.7"/>
<rect x="117.35" y="640.15" width="8.7" height="8.7" fill="#000"/>
<rect x="159.55" y="607.05" width="8.7" height="8.7" fill="#000"/>
<rect x="230.15" y="535.15" width="8.7" height="8.7" fill="#000"/>
<rect x="370.45" y="433.45" width="8.7" height="8.7" fill="#000"/>
<rect x="440.65" y="395.75" width="8.7" height="8.7" fill="#000"/>
<rect x="273.3" y="598.9" width="186.5" height="46.2" fill="#000"/>
<rect x="268.6" y="594.2" width="186.6" height="46.2" fill="#fff" stroke="#000" stroke-width="1"/>
<rect x="288.9" y="602.4" width="8.8" height="8.8" fill="#000"/>
<path d="M272.7,628.7 H313.7" stroke="#ff0080" stroke-width="1.7"/>
<text x="317.5" y="612.7" style="font-size:18.7px;font-weight:normal;stroke:#000;stroke-width:0.6px">Experiment data</text>
<text x="317.5" y="635.2" style="font-size:18.7px;font-weight:normal;stroke:#000;stroke-width:0.6px">Linear fit</text>
<text x="114.5" y="423.3" style="font-size:29.5px;stroke-width:0">(c)</text>
<text transform="translate(28,638.6) rotate(-90)" style="font-size:23.3px">I <tspan dy="5.5">(anodic peak)</tspan><tspan dy="-5.5"> (A)</tspan></text>
<text x="194.3" y="721.6" style="font-size:22.2px">Scan rate (mV s<tspan dx="0" dy="-12.6" style="font-size:13.5px">-1</tspan><tspan dx="1.2" dy="12.6">)</tspan></text>
<rect x="624.4" y="381.1" width="385.7" height="287" fill="none" stroke="#000" stroke-width="1.5"/>
<path d="M624.2,668.1 v6 M694.35,668.1 v6 M764.5,668.1 v6 M834.65,668.1 v6 M904.8,668.1 v6 M974.95,668.1 v6 M659.28,668.1 v3.2 M729.43,668.1 v3.2 M799.58,668.1 v3.2 M869.73,668.1 v3.2 M939.88,668.1 v3.2 M1010.03,668.1 v3.2 M624.4,668.1 h-6 M624.4,596.35 h-6 M624.4,524.6 h-6 M624.4,452.85 h-6 M624.4,381.1 h-6 M624.4,632.23 h-3.2 M624.4,560.48 h-3.2 M624.4,488.73 h-3.2 M624.4,416.98 h-3.2" stroke="#000" stroke-width="1.5" fill="none"/>
<text x="624.2" y="690.6" text-anchor="middle" class="tk" style="font-size:17.5px">0</text>
<text x="694.35" y="690.6" text-anchor="middle" class="tk" style="font-size:17.5px">5</text>
<text x="764.5" y="690.6" text-anchor="middle" class="tk" style="font-size:17.5px">10</text>
<text x="834.65" y="690.6" text-anchor="middle" class="tk" style="font-size:17.5px">15</text>
<text x="904.8" y="690.6" text-anchor="middle" class="tk" style="font-size:17.5px">20</text>
<text x="974.95" y="690.6" text-anchor="middle" class="tk" style="font-size:17.5px">25</text>
<text x="614.8" y="673.1" text-anchor="end" class="tk" style="font-size:17.5px">100</text>
<text x="614.8" y="601.35" text-anchor="end" class="tk" style="font-size:17.5px">150</text>
<text x="614.8" y="529.6" text-anchor="end" class="tk" style="font-size:17.5px">200</text>
<text x="614.8" y="457.85" text-anchor="end" class="tk" style="font-size:17.5px">250</text>
<text x="614.8" y="386.1" text-anchor="end" class="tk" style="font-size:17.5px">300</text>
<polyline points="651.9,431 694.4,528.5 764.6,544.6 905.2,567.6 975,579.1" fill="none" stroke="#000" stroke-width="1.6"/>
<circle cx="651.9" cy="431" r="7.2" fill="#000000"/>
<circle cx="694.4" cy="528.5" r="7.2" fill="#ff0000"/>
<circle cx="764.6" cy="544.6" r="7.2" fill="#00ff00"/>
<circle cx="905.2" cy="567.6" r="7.2" fill="#0000ff"/>
<circle cx="975" cy="579.1" r="7.2" fill="#00ffff"/>
<text x="635.2" y="408.5" style="font-size:29.5px;stroke-width:0">(d)</text>
<text transform="translate(563,668.6) rotate(-90)" style="font-size:22px">Specific capacitance (F g<tspan dx="0.3" dy="-12.2" style="font-size:13.5px">-1</tspan><tspan dx="1.8" dy="12.2">)</tspan></text>
<text x="728.6" y="723.5" style="font-size:21.5px">Scan rate (mv s<tspan dx="0.5" dy="-12.2" style="font-size:13.5px">-1</tspan><tspan dx="1" dy="12.2">)</tspan></text>
</svg></body></html>
